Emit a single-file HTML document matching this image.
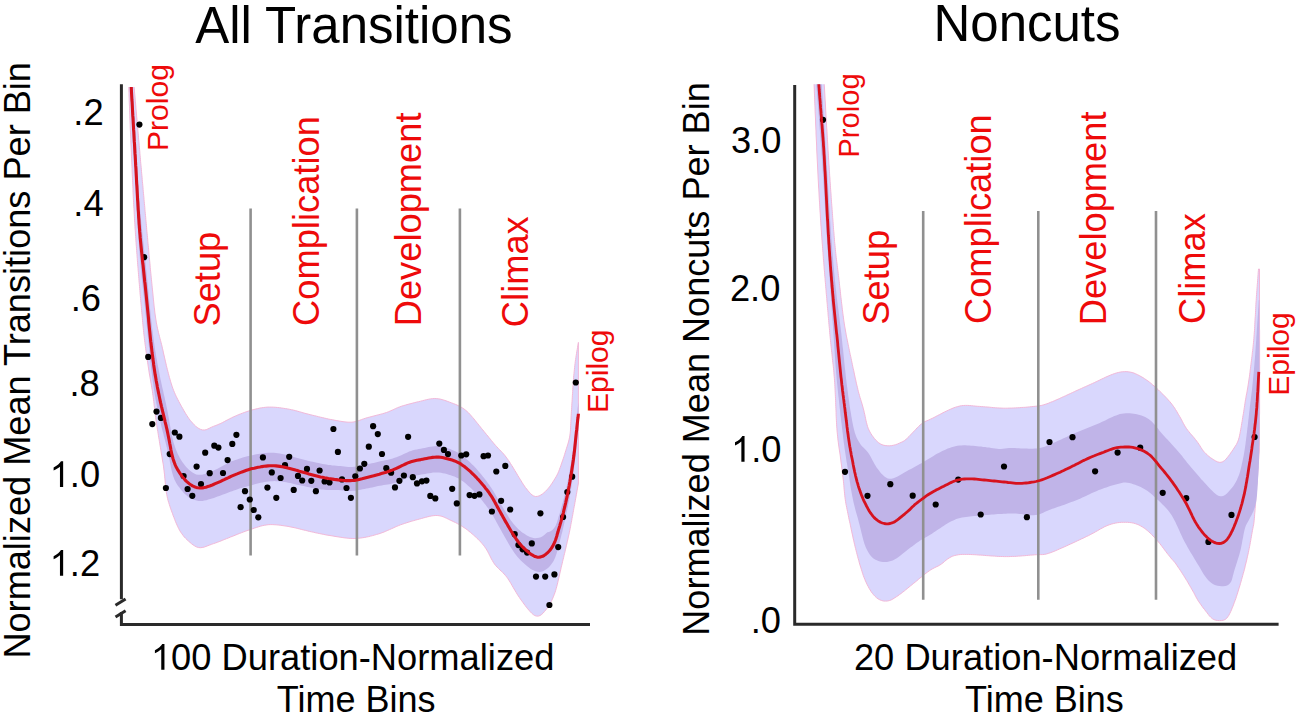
<!DOCTYPE html>
<html><head><meta charset="utf-8"><style>
html,body{margin:0;padding:0;background:#fff;}
body{width:1300px;height:718px;overflow:hidden;}
svg{display:block;}
text{font-family:"Liberation Sans", sans-serif;}
</style></head><body>
<svg width="1300" height="718" viewBox="0 0 1300 718" font-family="Liberation Sans, sans-serif">
<rect width="1300" height="718" fill="#fff"/>
<clipPath id="clipL"><rect x="123" y="87" width="477" height="553"/></clipPath>
<g clip-path="url(#clipL)">
<path d="M133.5,80.0 L133.7,82.0 L133.8,84.0 L134.0,86.0 L134.2,88.0 L134.4,90.0 L134.5,92.0 L134.7,93.9 L134.9,95.9 L135.1,97.9 L135.2,99.9 L135.4,101.9 L135.6,103.9 L135.8,105.9 L135.9,107.9 L136.1,109.9 L136.3,111.9 L136.5,113.9 L136.6,115.9 L136.8,117.9 L137.0,119.8 L137.1,121.8 L137.3,123.8 L137.5,125.8 L137.7,127.8 L137.8,129.8 L138.0,131.8 L138.2,133.8 L138.4,135.8 L138.5,137.8 L138.7,139.8 L138.9,141.8 L139.1,143.8 L139.2,145.7 L139.4,147.7 L139.6,149.7 L139.8,151.7 L139.9,153.7 L140.1,155.7 L140.3,157.7 L140.5,159.7 L140.6,161.7 L140.8,163.7 L141.0,165.7 L141.2,167.7 L141.4,169.7 L141.5,171.6 L141.7,173.6 L141.9,175.6 L142.1,177.6 L142.2,179.6 L142.4,181.6 L142.6,183.6 L142.8,185.6 L143.0,187.6 L143.1,189.6 L143.3,191.6 L143.5,193.6 L143.7,195.6 L143.9,197.5 L144.0,199.5 L144.2,201.5 L144.4,203.5 L144.6,205.5 L144.8,207.5 L144.9,209.5 L145.1,211.5 L145.3,213.5 L145.5,215.5 L145.7,217.5 L145.8,219.5 L146.0,221.4 L146.2,223.4 L146.4,225.4 L146.6,227.4 L146.7,229.4 L146.9,231.4 L147.1,233.4 L147.3,235.4 L147.5,237.4 L147.7,239.4 L147.8,241.4 L148.0,243.4 L148.2,245.3 L148.4,247.3 L148.6,249.3 L148.8,251.3 L148.9,253.3 L149.1,255.3 L149.3,257.3 L149.5,259.3 L149.7,261.3 L149.9,263.3 L150.1,265.3 L150.2,267.3 L150.4,269.2 L150.6,271.2 L150.8,273.2 L151.0,275.2 L151.2,277.2 L151.4,279.2 L151.6,281.2 L151.8,283.2 L152.0,285.2 L152.2,287.2 L152.4,289.1 L152.6,291.1 L152.8,293.1 L153.0,295.1 L153.2,297.1 L153.4,299.1 L153.6,301.1 L153.8,303.1 L154.0,305.1 L154.2,307.1 L154.5,309.0 L154.7,311.0 L154.9,313.0 L155.2,315.0 L155.5,317.0 L155.8,319.0 L156.1,320.9 L156.4,322.9 L156.8,324.9 L157.2,326.8 L157.6,328.8 L158.1,330.7 L158.5,332.7 L159.0,334.6 L159.5,336.5 L160.0,338.5 L160.5,340.4 L161.0,342.3 L161.5,344.3 L162.0,346.2 L162.4,348.2 L162.9,350.1 L163.3,352.1 L163.7,354.0 L164.2,356.0 L164.6,357.9 L165.1,359.9 L165.5,361.8 L166.0,363.8 L166.4,365.7 L166.9,367.7 L167.4,369.6 L167.9,371.6 L168.4,373.5 L168.9,375.4 L169.4,377.4 L170.0,379.3 L170.5,381.2 L171.1,383.1 L171.7,385.0 L172.3,386.9 L173.0,388.8 L173.7,390.7 L174.5,392.5 L175.3,394.4 L176.1,396.2 L177.0,398.0 L177.9,399.7 L178.8,401.5 L179.8,403.3 L180.7,405.0 L181.7,406.8 L182.7,408.5 L183.7,410.3 L184.7,412.0 L185.7,413.7 L186.8,415.4 L187.9,417.1 L189.0,418.7 L190.2,420.3 L191.5,421.8 L192.8,423.3 L194.2,424.8 L195.6,426.2 L197.2,427.4 L198.8,428.5 L200.6,429.4 L202.4,429.9 L204.3,430.0 L206.2,429.7 L208.0,428.9 L209.7,428.1 L211.5,427.2 L213.4,426.4 L215.2,425.7 L217.1,425.0 L218.9,424.2 L220.8,423.4 L222.6,422.5 L224.3,421.6 L226.1,420.6 L227.9,419.7 L229.6,418.8 L231.4,417.9 L233.2,417.0 L235.1,416.2 L236.9,415.4 L238.7,414.6 L240.6,413.9 L242.4,413.2 L244.3,412.5 L246.2,411.8 L248.1,411.2 L250.0,410.6 L251.9,410.0 L253.9,409.5 L255.8,409.0 L257.8,408.6 L259.7,408.1 L261.7,407.8 L263.6,407.5 L265.6,407.3 L267.6,407.1 L269.6,407.1 L271.6,407.1 L273.6,407.2 L275.6,407.3 L277.6,407.5 L279.6,407.7 L281.6,408.0 L283.5,408.3 L285.5,408.6 L287.5,408.9 L289.5,409.3 L291.4,409.7 L293.4,410.1 L295.3,410.6 L297.2,411.1 L299.2,411.7 L301.1,412.2 L303.0,412.8 L304.9,413.3 L306.9,413.8 L308.8,414.3 L310.8,414.8 L312.7,415.3 L314.6,415.7 L316.6,416.2 L318.5,416.7 L320.5,417.2 L322.4,417.6 L324.4,418.1 L326.3,418.5 L328.3,419.0 L330.2,419.4 L332.2,419.7 L334.1,420.1 L336.1,420.5 L338.1,420.8 L340.1,421.2 L342.0,421.5 L344.0,421.8 L346.0,422.0 L348.0,422.2 L350.0,422.2 L352.0,422.2 L353.9,421.9 L355.9,421.5 L357.8,421.0 L359.7,420.3 L361.5,419.6 L363.4,418.9 L365.3,418.3 L367.2,417.7 L369.2,417.2 L371.1,416.7 L373.0,416.2 L375.0,415.7 L376.9,415.2 L378.8,414.7 L380.8,414.2 L382.7,413.7 L384.6,413.1 L386.5,412.5 L388.4,411.8 L390.2,411.0 L392.1,410.2 L393.9,409.4 L395.7,408.5 L397.5,407.7 L399.4,407.0 L401.3,406.3 L403.2,405.7 L405.1,405.2 L407.0,404.6 L408.9,404.1 L410.9,403.6 L412.8,403.1 L414.8,402.6 L416.7,402.1 L418.6,401.7 L420.6,401.2 L422.5,400.7 L424.5,400.2 L426.4,399.7 L428.3,399.3 L430.3,398.9 L432.3,398.7 L434.3,398.5 L436.3,398.6 L438.2,398.8 L440.2,399.1 L442.1,399.6 L444.1,400.2 L446.0,400.8 L447.8,401.5 L449.7,402.2 L451.6,402.9 L453.4,403.6 L455.3,404.3 L457.1,405.1 L458.9,406.0 L460.7,406.9 L462.4,407.9 L464.1,409.1 L465.7,410.3 L467.2,411.6 L468.6,412.9 L470.0,414.4 L471.3,415.9 L472.6,417.4 L473.9,418.9 L475.2,420.5 L476.4,422.1 L477.7,423.6 L478.9,425.2 L480.2,426.7 L481.4,428.3 L482.7,429.8 L484.0,431.4 L485.2,432.9 L486.5,434.5 L487.8,436.0 L489.0,437.6 L490.3,439.1 L491.5,440.7 L492.8,442.2 L494.1,443.8 L495.4,445.3 L496.8,446.7 L498.1,448.2 L499.5,449.6 L500.9,451.1 L502.3,452.5 L503.6,454.0 L504.9,455.5 L506.1,457.1 L507.3,458.7 L508.5,460.4 L509.6,462.0 L510.6,463.7 L511.7,465.4 L512.8,467.1 L513.8,468.8 L514.8,470.5 L515.9,472.2 L516.9,473.9 L517.9,475.7 L519.0,477.4 L520.0,479.1 L521.1,480.8 L522.1,482.5 L523.2,484.2 L524.3,485.8 L525.4,487.5 L526.7,489.0 L527.9,490.6 L529.2,492.1 L530.6,493.6 L532.0,494.9 L533.6,495.9 L535.4,496.5 L537.3,496.4 L539.1,495.9 L540.8,495.0 L542.5,493.9 L544.0,492.7 L545.5,491.3 L546.9,489.9 L548.2,488.4 L549.5,486.9 L550.7,485.2 L551.8,483.6 L552.9,481.9 L554.0,480.2 L555.0,478.5 L556.1,476.8 L557.0,475.1 L557.9,473.3 L558.7,471.4 L559.4,469.6 L560.1,467.7 L560.8,465.8 L561.4,463.9 L562.1,462.0 L562.7,460.2 L563.4,458.3 L564.0,456.4 L564.6,454.5 L565.2,452.5 L565.8,450.6 L566.4,448.7 L567.0,446.8 L567.6,444.9 L568.2,443.0 L568.7,441.1 L569.2,439.1 L569.6,437.2 L569.9,435.2 L570.2,433.2 L570.4,431.2 L570.5,429.2 L570.6,427.2 L570.7,425.3 L570.8,423.3 L570.9,421.3 L571.0,419.3 L571.1,417.3 L571.2,415.3 L571.3,413.3 L571.4,411.3 L571.6,409.3 L571.7,407.3 L571.8,405.3 L571.9,403.3 L572.1,401.3 L572.2,399.3 L572.3,397.3 L572.4,395.3 L572.6,393.3 L572.7,391.3 L572.8,389.3 L572.9,387.3 L573.1,385.3 L573.2,383.3 L573.3,381.3 L573.5,379.3 L573.6,377.3 L573.8,375.3 L574.0,373.4 L574.2,371.4 L574.4,369.4 L574.6,367.4 L574.8,365.4 L575.1,363.4 L575.3,361.4 L575.6,359.5 L575.9,357.5 L576.2,355.5 L576.5,353.5 L576.8,351.5 L577.2,349.6 L577.5,347.6 L577.8,345.7 L578.2,343.8 L578.4,342.4 L578.4,483.0 L578.1,485.0 L577.7,486.9 L577.4,488.9 L577.0,490.9 L576.7,492.9 L576.3,494.8 L576.0,496.8 L575.6,498.8 L575.3,500.7 L574.9,502.7 L574.6,504.7 L574.2,506.6 L573.8,508.6 L573.5,510.6 L573.1,512.5 L572.8,514.5 L572.4,516.5 L572.0,518.4 L571.7,520.4 L571.3,522.4 L570.9,524.3 L570.6,526.3 L570.2,528.3 L569.8,530.2 L569.4,532.2 L569.0,534.1 L568.5,536.1 L568.1,538.0 L567.7,540.0 L567.2,541.9 L566.8,543.9 L566.3,545.8 L565.9,547.8 L565.4,549.7 L565.0,551.7 L564.5,553.6 L564.0,555.6 L563.6,557.5 L563.1,559.5 L562.6,561.4 L562.2,563.4 L561.7,565.3 L561.2,567.2 L560.8,569.2 L560.4,571.1 L559.9,573.1 L559.5,575.0 L559.0,577.0 L558.6,578.9 L558.1,580.9 L557.7,582.8 L557.2,584.8 L556.7,586.7 L556.2,588.6 L555.6,590.6 L555.0,592.5 L554.3,594.4 L553.6,596.2 L552.8,598.1 L552.0,599.9 L551.1,601.7 L550.2,603.4 L549.2,605.2 L548.1,606.8 L546.9,608.5 L545.7,610.1 L544.4,611.6 L543.1,613.1 L541.7,614.4 L540.1,615.5 L538.4,616.1 L536.6,616.1 L534.8,615.6 L533.2,614.5 L531.7,613.2 L530.3,611.8 L529.0,610.3 L527.7,608.8 L526.4,607.2 L525.2,605.6 L524.0,604.0 L522.9,602.4 L521.7,600.8 L520.5,599.2 L519.4,597.5 L518.3,595.9 L517.2,594.2 L516.2,592.5 L515.1,590.7 L514.1,589.0 L513.1,587.3 L512.1,585.6 L511.1,583.8 L510.1,582.1 L509.0,580.4 L507.9,578.7 L506.8,577.1 L505.5,575.6 L504.2,574.1 L502.8,572.6 L501.4,571.2 L499.9,569.9 L498.5,568.5 L497.1,567.1 L495.7,565.6 L494.5,564.0 L493.4,562.4 L492.4,560.6 L491.4,558.9 L490.5,557.1 L489.6,555.3 L488.7,553.5 L487.8,551.8 L486.8,550.0 L485.7,548.3 L484.6,546.7 L483.4,545.1 L482.1,543.6 L480.8,542.1 L479.4,540.6 L478.0,539.2 L476.6,537.8 L475.1,536.5 L473.6,535.1 L472.1,533.8 L470.6,532.5 L469.0,531.3 L467.5,530.0 L465.9,528.8 L464.2,527.7 L462.6,526.6 L460.9,525.5 L459.2,524.5 L457.4,523.6 L455.6,522.6 L453.8,521.8 L452.0,520.9 L450.2,520.1 L448.4,519.2 L446.6,518.3 L444.8,517.5 L443.0,516.7 L441.1,516.1 L439.1,515.7 L437.2,515.5 L435.2,515.5 L433.2,515.7 L431.2,516.0 L429.3,516.4 L427.3,516.9 L425.4,517.4 L423.5,517.9 L421.5,518.5 L419.6,519.0 L417.7,519.5 L415.8,520.0 L413.8,520.6 L411.9,521.1 L410.0,521.7 L408.1,522.3 L406.2,522.9 L404.3,523.5 L402.4,524.2 L400.5,524.8 L398.6,525.6 L396.8,526.3 L395.0,527.1 L393.1,528.0 L391.3,528.8 L389.5,529.6 L387.7,530.4 L385.8,531.2 L384.0,532.0 L382.1,532.7 L380.2,533.4 L378.3,534.0 L376.4,534.5 L374.5,535.1 L372.6,535.6 L370.6,536.1 L368.7,536.6 L366.7,537.0 L364.8,537.4 L362.8,537.7 L360.8,538.0 L358.8,538.2 L356.9,538.4 L354.9,538.5 L352.9,538.5 L350.9,538.4 L348.9,538.3 L346.9,538.1 L344.9,537.9 L342.9,537.6 L340.9,537.3 L338.9,537.0 L337.0,536.7 L335.0,536.4 L333.0,536.0 L331.1,535.7 L329.1,535.4 L327.1,535.1 L325.1,534.7 L323.2,534.3 L321.2,533.9 L319.3,533.5 L317.3,533.1 L315.3,532.7 L313.4,532.2 L311.4,531.8 L309.5,531.4 L307.5,530.9 L305.6,530.4 L303.7,530.0 L301.7,529.5 L299.8,529.0 L297.8,528.5 L295.9,528.0 L294.0,527.6 L292.0,527.2 L290.0,526.8 L288.1,526.4 L286.1,526.1 L284.1,525.8 L282.1,525.5 L280.2,525.2 L278.2,525.0 L276.2,524.8 L274.2,524.7 L272.2,524.6 L270.2,524.6 L268.2,524.7 L266.2,525.0 L264.3,525.3 L262.3,525.7 L260.4,526.2 L258.5,526.8 L256.6,527.4 L254.7,528.0 L252.8,528.7 L250.9,529.3 L249.0,530.0 L247.1,530.6 L245.2,531.3 L243.3,532.0 L241.5,532.7 L239.6,533.4 L237.7,534.2 L235.9,534.9 L234.0,535.7 L232.2,536.4 L230.3,537.1 L228.5,537.9 L226.6,538.6 L224.7,539.4 L222.9,540.1 L221.0,540.9 L219.2,541.6 L217.3,542.3 L215.4,543.0 L213.5,543.6 L211.6,544.3 L209.7,545.0 L207.9,545.7 L206.0,546.4 L204.2,547.1 L202.2,547.5 L200.3,547.7 L198.4,547.5 L196.5,546.9 L194.8,546.0 L193.1,544.9 L191.5,543.7 L190.0,542.4 L188.5,541.1 L187.0,539.7 L185.6,538.3 L184.2,536.9 L183.0,535.3 L181.8,533.7 L180.7,532.1 L179.6,530.4 L178.7,528.6 L177.8,526.8 L177.0,525.0 L176.2,523.2 L175.4,521.3 L174.7,519.5 L174.0,517.6 L173.2,515.7 L172.6,513.8 L171.9,512.0 L171.2,510.1 L170.5,508.2 L169.9,506.3 L169.3,504.4 L168.7,502.5 L168.1,500.6 L167.6,498.6 L167.2,496.7 L166.8,494.7 L166.4,492.8 L166.1,490.8 L165.9,488.8 L165.7,486.8 L165.5,484.8 L165.3,482.8 L165.1,480.8 L164.9,478.8 L164.7,476.9 L164.6,474.9 L164.3,472.9 L164.1,470.9 L163.8,468.9 L163.6,466.9 L163.3,464.9 L163.0,463.0 L162.6,461.0 L162.3,459.0 L162.0,457.0 L161.7,455.1 L161.3,453.1 L161.0,451.1 L160.7,449.2 L160.4,447.2 L160.0,445.2 L159.7,443.2 L159.4,441.3 L159.1,439.3 L158.7,437.3 L158.4,435.3 L158.1,433.4 L157.8,431.4 L157.4,429.4 L157.1,427.4 L156.8,425.5 L156.5,423.5 L156.2,421.5 L155.9,419.5 L155.7,417.6 L155.4,415.6 L155.2,413.6 L154.9,411.6 L154.7,409.6 L154.5,407.6 L154.2,405.6 L154.0,403.7 L153.8,401.7 L153.5,399.7 L153.3,397.7 L153.0,395.7 L152.7,393.7 L152.5,391.8 L152.2,389.8 L151.8,387.8 L151.5,385.8 L151.2,383.9 L150.8,381.9 L150.5,379.9 L150.1,377.9 L149.8,376.0 L149.4,374.0 L149.1,372.0 L148.8,370.1 L148.5,368.1 L148.2,366.1 L147.9,364.1 L147.6,362.2 L147.3,360.2 L147.0,358.2 L146.7,356.2 L146.4,354.2 L146.2,352.3 L145.9,350.3 L145.6,348.3 L145.4,346.3 L145.1,344.3 L144.9,342.3 L144.6,340.4 L144.4,338.4 L144.2,336.4 L143.9,334.4 L143.7,332.4 L143.5,330.4 L143.3,328.4 L143.1,326.4 L142.9,324.4 L142.7,322.5 L142.5,320.5 L142.4,318.5 L142.2,316.5 L142.0,314.5 L141.8,312.5 L141.6,310.5 L141.4,308.5 L141.3,306.5 L141.1,304.5 L140.9,302.5 L140.7,300.5 L140.6,298.6 L140.4,296.6 L140.2,294.6 L140.0,292.6 L139.9,290.6 L139.7,288.6 L139.5,286.6 L139.4,284.6 L139.2,282.6 L139.0,280.6 L138.9,278.6 L138.7,276.6 L138.5,274.6 L138.4,272.6 L138.2,270.7 L138.1,268.7 L137.9,266.7 L137.7,264.7 L137.6,262.7 L137.4,260.7 L137.3,258.7 L137.1,256.7 L137.0,254.7 L136.8,252.7 L136.7,250.7 L136.5,248.7 L136.4,246.7 L136.2,244.7 L136.1,242.7 L135.9,240.7 L135.8,238.7 L135.7,236.7 L135.5,234.8 L135.4,232.8 L135.3,230.8 L135.1,228.8 L135.0,226.8 L134.9,224.8 L134.8,222.8 L134.6,220.8 L134.5,218.8 L134.4,216.8 L134.3,214.8 L134.2,212.8 L134.1,210.8 L134.0,208.8 L133.8,206.8 L133.7,204.8 L133.6,202.8 L133.5,200.8 L133.4,198.8 L133.3,196.8 L133.2,194.8 L133.1,192.8 L133.0,190.8 L133.0,188.8 L132.9,186.8 L132.8,184.8 L132.7,182.8 L132.6,180.8 L132.5,178.8 L132.4,176.8 L132.3,174.8 L132.2,172.8 L132.1,170.8 L132.1,168.8 L132.0,166.8 L131.9,164.8 L131.8,162.9 L131.7,160.9 L131.6,158.9 L131.5,156.9 L131.4,154.9 L131.4,152.9 L131.3,150.9 L131.2,148.9 L131.1,146.9 L131.0,144.9 L130.9,142.9 L130.8,140.9 L130.8,138.9 L130.7,136.9 L130.6,134.9 L130.5,132.9 L130.4,130.9 L130.3,128.9 L130.2,126.9 L130.2,124.9 L130.1,122.9 L130.0,120.9 L129.9,118.9 L129.8,116.9 L129.8,114.9 L129.7,112.9 L129.6,110.9 L129.5,108.9 L129.5,106.9 L129.4,104.9 L129.3,102.9 L129.2,100.9 L129.2,98.9 L129.1,96.9 L129.0,94.9 L129.0,92.9 L128.9,90.9 L128.8,88.9 L128.8,86.9 L128.7,84.9 L128.6,82.9 L128.5,81.0 L128.5,80.0 Z" fill="#d9d7fd" stroke="#f2b8d8" stroke-width="1"/>
<path d="M130.8,43.5 L130.8,45.5 L130.8,47.5 L130.8,49.5 L130.9,51.5 L131.0,53.5 L131.0,55.5 L131.1,57.5 L131.2,59.5 L131.3,61.5 L131.4,63.5 L131.5,65.5 L131.6,67.5 L131.7,69.5 L131.8,71.5 L131.9,73.5 L132.1,75.5 L132.2,77.5 L132.3,79.5 L132.4,81.5 L132.5,83.5 L132.6,85.5 L132.7,87.5 L132.8,89.5 L133.0,91.5 L133.1,93.5 L133.2,95.5 L133.3,97.5 L133.4,99.5 L133.5,101.5 L133.6,103.5 L133.8,105.5 L133.9,107.5 L134.0,109.5 L134.1,111.5 L134.2,113.5 L134.3,115.5 L134.5,117.5 L134.6,119.5 L134.7,121.5 L134.8,123.5 L134.9,125.5 L135.0,127.5 L135.2,129.5 L135.3,131.5 L135.4,133.5 L135.5,135.5 L135.6,137.5 L135.7,139.5 L135.9,141.5 L136.0,143.5 L136.1,145.5 L136.2,147.5 L136.3,149.5 L136.4,151.5 L136.5,153.5 L136.6,155.5 L136.7,157.5 L136.9,159.5 L137.0,161.5 L137.1,163.5 L137.2,165.5 L137.3,167.5 L137.4,169.5 L137.5,171.5 L137.6,173.5 L137.8,175.5 L137.9,177.5 L138.0,179.5 L138.1,181.5 L138.2,183.5 L138.4,185.5 L138.5,187.5 L138.6,189.5 L138.7,191.5 L138.9,193.5 L139.0,195.5 L139.1,197.5 L139.3,199.5 L139.4,201.5 L139.6,203.5 L139.7,205.5 L139.9,207.5 L140.1,209.5 L140.2,211.5 L140.4,213.5 L140.6,215.5 L140.8,217.4 L141.0,219.4 L141.2,221.4 L141.4,223.4 L141.6,225.4 L141.8,227.4 L142.0,229.4 L142.2,231.4 L142.4,233.4 L142.6,235.4 L142.8,237.4 L143.1,239.4 L143.3,241.4 L143.5,243.4 L143.7,245.4 L143.9,247.4 L144.1,249.4 L144.3,251.4 L144.5,253.4 L144.7,255.3 L145.0,257.3 L145.2,259.3 L145.4,261.3 L145.6,263.3 L145.8,265.3 L146.0,267.3 L146.2,269.3 L146.4,271.3 L146.6,273.3 L146.8,275.3 L147.0,277.3 L147.2,279.3 L147.4,281.3 L147.6,283.3 L147.8,285.3 L148.0,287.3 L148.2,289.3 L148.4,291.3 L148.6,293.3 L148.7,295.3 L148.9,297.2 L149.1,299.2 L149.3,301.2 L149.5,303.2 L149.7,305.2 L149.9,307.2 L150.1,309.2 L150.3,311.3 L150.5,313.3 L150.7,315.4 L151.0,317.4 L151.2,319.5 L151.4,321.5 L151.7,323.6 L151.9,325.6 L152.1,327.7 L152.4,329.7 L152.7,331.8 L152.9,333.8 L153.2,335.9 L153.5,337.9 L153.7,340.0 L154.0,342.0 L154.3,344.1 L154.6,346.2 L154.9,348.2 L155.2,350.3 L155.6,352.3 L155.9,354.4 L156.2,356.5 L156.6,358.5 L157.0,360.6 L157.3,362.7 L157.7,364.7 L158.1,366.8 L158.5,368.8 L158.9,370.9 L159.3,373.0 L159.7,375.0 L160.1,377.1 L160.5,379.2 L161.0,381.3 L161.4,383.3 L161.9,385.4 L162.3,387.5 L162.8,389.5 L163.3,391.6 L163.7,393.7 L164.2,395.7 L164.7,397.8 L165.1,399.9 L165.6,402.1 L166.1,404.2 L166.5,406.4 L167.0,408.5 L167.4,410.7 L167.8,412.8 L168.2,415.0 L168.6,417.1 L169.0,419.3 L169.4,421.4 L169.7,423.6 L170.1,425.7 L170.5,427.8 L170.8,430.0 L171.2,432.1 L171.6,434.3 L172.1,436.4 L172.6,438.6 L173.1,440.8 L173.7,442.9 L174.4,445.1 L175.1,447.3 L175.9,449.5 L176.9,451.7 L177.8,453.9 L178.9,456.1 L180.0,458.3 L181.1,460.1 L182.3,461.9 L183.5,463.6 L184.8,465.3 L186.2,466.9 L187.7,468.5 L189.2,469.9 L190.8,471.3 L192.5,472.5 L194.3,473.6 L196.2,474.4 L198.1,474.7 L200.0,474.8 L202.0,474.7 L203.9,474.3 L205.9,473.8 L207.8,473.2 L209.7,472.5 L211.6,471.6 L213.4,470.7 L215.2,469.8 L217.1,468.9 L218.9,467.9 L220.7,466.9 L222.5,466.0 L224.3,465.0 L226.1,464.0 L228.0,463.0 L229.8,462.0 L231.6,461.3 L233.4,460.7 L235.3,460.0 L237.1,459.4 L239.0,458.8 L240.8,458.2 L242.7,457.6 L244.6,457.1 L246.5,456.6 L248.4,456.1 L250.3,455.7 L252.2,455.2 L254.2,454.7 L256.1,454.3 L258.1,454.0 L260.0,453.7 L262.0,453.4 L264.0,453.1 L266.0,452.9 L268.0,452.8 L270.0,452.7 L272.0,452.7 L273.9,452.8 L275.9,453.0 L277.9,453.2 L279.9,453.5 L281.9,453.9 L283.8,454.3 L285.8,454.7 L287.7,455.2 L289.7,455.8 L291.6,456.3 L293.5,456.9 L295.5,457.5 L297.4,458.1 L299.3,458.6 L301.2,459.1 L303.2,459.6 L305.1,460.0 L307.0,460.5 L308.9,461.0 L310.9,461.4 L312.8,461.8 L314.7,462.3 L316.7,462.7 L318.6,463.1 L320.5,463.5 L322.5,463.9 L324.5,464.2 L326.4,464.6 L328.4,464.9 L330.4,465.1 L332.3,465.4 L334.3,465.6 L336.3,465.8 L338.3,465.9 L340.3,466.1 L342.3,466.3 L344.3,466.6 L346.2,466.7 L348.2,466.9 L350.2,466.9 L352.2,466.9 L354.2,466.7 L356.2,466.5 L358.1,466.1 L360.1,465.7 L362.0,465.3 L364.0,464.9 L365.9,464.5 L367.9,464.1 L369.8,463.7 L371.7,463.3 L373.7,462.9 L375.6,462.4 L377.5,462.0 L379.4,461.5 L381.4,461.1 L383.3,460.7 L385.2,460.3 L387.1,459.9 L389.0,459.4 L390.9,459.0 L392.8,458.4 L394.6,457.8 L396.4,457.2 L398.2,456.5 L400.1,455.8 L401.9,454.9 L403.7,454.0 L405.5,453.2 L407.3,452.4 L409.1,451.6 L411.0,450.9 L412.9,450.3 L414.9,449.8 L416.8,449.4 L418.8,449.1 L420.7,448.7 L422.7,448.3 L424.7,447.9 L426.6,447.5 L428.6,447.1 L430.5,446.7 L432.5,446.4 L434.5,446.2 L436.5,446.1 L438.5,446.1 L440.5,446.3 L442.4,446.7 L444.4,447.2 L446.3,447.8 L448.3,448.4 L450.2,449.1 L452.1,449.9 L454.0,450.7 L455.8,451.5 L457.7,452.4 L459.4,453.5 L461.1,454.6 L462.8,455.9 L464.4,457.2 L465.9,458.5 L467.5,459.9 L469.0,461.3 L470.5,462.7 L471.9,464.2 L473.4,465.6 L474.8,467.1 L476.2,468.6 L477.5,470.1 L478.9,471.7 L480.2,473.2 L481.5,474.8 L482.8,476.4 L484.1,478.0 L485.3,479.6 L486.6,481.3 L487.8,482.9 L489.0,484.6 L490.1,486.3 L491.2,487.8 L492.3,489.4 L493.3,491.0 L494.3,492.7 L495.2,494.3 L496.2,496.0 L497.1,497.7 L498.1,499.3 L499.1,501.0 L500.0,502.6 L501.0,504.3 L502.0,505.9 L503.0,507.6 L503.9,509.2 L504.9,510.9 L505.9,512.5 L506.9,514.1 L507.9,515.8 L508.9,517.4 L509.9,519.0 L510.9,520.4 L512.0,521.8 L513.0,523.2 L514.1,524.5 L515.2,525.8 L516.3,527.1 L517.5,528.3 L518.7,529.5 L520.0,530.6 L521.3,531.7 L522.6,532.7 L524.0,533.6 L525.5,534.6 L526.9,535.4 L528.5,536.2 L530.0,536.9 L531.7,537.5 L533.4,538.0 L535.1,538.2 L537.0,538.1 L538.9,537.8 L540.8,537.2 L542.6,536.2 L544.3,534.9 L545.9,533.4 L547.4,532.2 L548.8,531.9 L550.1,531.4 L551.3,530.8 L552.4,530.0 L553.3,529.0 L554.2,528.0 L555.0,526.7 L555.7,525.4 L556.3,524.0 L556.9,522.6 L557.4,520.8 L558.0,518.9 L558.5,517.1 L559.1,515.2 L559.7,513.4 L560.2,511.5 L560.8,509.7 L561.3,507.8 L561.8,506.0 L562.3,504.1 L562.9,502.2 L563.4,500.4 L563.8,498.5 L564.3,496.6 L564.8,494.7 L565.2,492.8 L565.7,490.8 L566.1,488.9 L566.5,486.9 L567.0,485.0 L567.4,483.0 L567.8,481.1 L568.2,479.1 L568.5,477.1 L568.9,475.2 L569.3,473.2 L569.6,471.2 L570.0,469.3 L570.3,467.3 L570.7,465.3 L571.0,463.3 L571.3,461.4 L571.6,459.4 L571.9,457.4 L572.2,455.4 L572.5,453.5 L572.8,451.5 L573.1,449.5 L573.4,447.5 L573.6,445.5 L573.9,443.6 L574.1,441.6 L574.4,439.6 L574.6,437.6 L574.8,435.6 L575.0,433.6 L575.2,431.6 L575.4,429.6 L575.6,427.7 L575.8,425.7 L576.0,423.7 L576.2,421.7 L576.4,419.7 L576.7,417.7 L576.9,415.7 L577.1,413.7 L577.3,411.7 L577.5,409.8 L577.7,407.8 L578.0,405.8 L578.2,404.0 L578.4,402.2 L578.4,401.8 L578.4,427.8 L578.2,429.5 L578.0,431.4 L577.8,433.3 L577.6,435.2 L577.4,437.2 L577.1,439.2 L576.9,441.2 L576.7,443.2 L576.5,445.2 L576.3,447.2 L576.1,449.2 L575.9,451.1 L575.7,453.1 L575.5,455.1 L575.3,457.1 L575.1,459.1 L574.9,461.1 L574.6,463.1 L574.4,465.1 L574.2,467.1 L574.0,469.0 L573.7,471.0 L573.5,473.0 L573.2,475.0 L572.9,477.0 L572.6,479.0 L572.3,480.9 L572.0,482.9 L571.7,484.9 L571.4,486.9 L571.1,488.8 L570.7,490.8 L570.4,492.8 L570.1,494.8 L569.7,496.7 L569.4,498.7 L569.0,500.7 L568.6,502.6 L568.2,504.6 L567.9,506.6 L567.5,508.5 L567.1,510.5 L566.6,512.4 L566.2,514.4 L565.8,516.3 L565.4,518.3 L564.9,520.3 L564.4,522.4 L564.0,524.5 L563.5,526.6 L563.0,528.8 L562.5,530.9 L562.0,533.0 L561.4,535.1 L560.9,537.3 L560.3,539.4 L559.8,541.5 L559.2,543.7 L558.7,545.8 L558.1,547.9 L557.6,550.0 L557.0,552.2 L556.4,554.0 L555.8,555.8 L555.2,557.6 L554.4,559.3 L553.6,561.0 L552.6,562.6 L551.5,564.1 L550.4,565.6 L549.1,566.9 L547.7,568.2 L546.3,569.3 L544.7,570.3 L543.0,571.2 L541.2,571.7 L539.4,571.9 L537.5,571.7 L535.6,571.3 L533.8,570.6 L532.1,569.7 L530.4,568.7 L528.9,567.5 L527.3,566.3 L525.8,565.0 L524.4,563.8 L523.0,562.5 L521.6,561.3 L520.3,559.9 L519.0,558.6 L517.8,557.2 L516.6,555.7 L515.4,554.2 L514.3,552.7 L513.3,551.2 L512.2,549.6 L511.2,548.0 L510.2,546.4 L509.2,544.7 L508.2,543.0 L507.2,541.3 L506.2,539.5 L505.2,537.8 L504.2,536.1 L503.2,534.3 L502.2,532.6 L501.3,530.8 L500.3,529.1 L499.3,527.3 L498.3,525.6 L497.4,523.8 L496.4,522.1 L495.5,520.3 L494.5,518.5 L493.6,516.8 L492.6,515.1 L491.5,513.4 L490.4,511.7 L489.3,510.0 L488.1,508.3 L486.9,506.7 L485.7,505.1 L484.4,503.4 L483.1,501.8 L481.9,500.2 L480.6,498.6 L479.2,497.1 L477.9,495.5 L476.5,494.0 L475.1,492.5 L473.7,491.0 L472.3,489.5 L470.8,488.1 L469.3,486.7 L467.8,485.4 L466.3,484.0 L464.8,482.8 L463.2,481.5 L461.5,480.4 L459.8,479.3 L458.1,478.3 L456.3,477.4 L454.4,476.6 L452.6,475.9 L450.7,475.3 L448.8,474.7 L446.8,474.1 L444.9,473.6 L442.9,473.2 L441.0,472.8 L439.0,472.6 L437.0,472.5 L435.0,472.5 L433.0,472.6 L431.0,472.9 L429.1,473.2 L427.1,473.5 L425.2,473.9 L423.2,474.2 L421.2,474.6 L419.3,474.9 L417.3,475.2 L415.3,475.6 L413.4,476.0 L411.5,476.5 L409.6,477.1 L407.7,477.8 L405.9,478.5 L404.1,479.3 L402.3,480.2 L400.5,481.0 L398.7,481.7 L396.9,482.3 L395.1,482.8 L393.2,483.3 L391.4,483.7 L389.5,484.2 L387.6,484.5 L385.7,484.8 L383.8,485.1 L381.8,485.4 L379.9,485.7 L378.0,486.1 L376.1,486.6 L374.1,487.0 L372.2,487.4 L370.3,487.8 L368.3,488.2 L366.4,488.5 L364.5,488.9 L362.5,489.3 L360.6,489.7 L358.6,490.0 L356.7,490.4 L354.7,490.7 L352.7,490.8 L350.7,490.9 L348.7,490.9 L346.7,490.8 L344.8,490.6 L342.8,490.4 L340.8,490.2 L338.8,490.1 L336.8,490.1 L334.8,490.1 L332.8,490.1 L330.8,490.1 L328.9,490.0 L326.9,489.9 L324.9,489.7 L323.0,489.6 L321.0,489.4 L319.1,489.1 L317.1,488.8 L315.2,488.4 L313.3,488.1 L311.3,487.7 L309.4,487.3 L307.5,486.9 L305.6,486.5 L303.6,486.1 L301.7,485.7 L299.8,485.3 L297.9,484.9 L295.9,484.4 L294.0,484.0 L292.1,483.5 L290.2,483.1 L288.2,482.7 L286.3,482.3 L284.3,482.0 L282.4,481.7 L280.4,481.5 L278.4,481.3 L276.4,481.2 L274.4,481.1 L272.5,481.2 L270.5,481.3 L268.5,481.5 L266.5,481.7 L264.5,482.1 L262.5,482.4 L260.5,482.8 L258.6,483.3 L256.6,483.8 L254.6,484.3 L252.7,484.9 L250.8,485.5 L248.9,486.0 L246.9,486.4 L245.1,486.9 L243.2,487.5 L241.3,488.0 L239.4,488.6 L237.6,489.3 L235.7,489.9 L233.9,490.5 L232.1,491.2 L230.2,491.8 L228.4,492.5 L226.6,493.2 L224.8,493.9 L223.0,494.6 L221.2,495.2 L219.3,495.9 L217.5,496.6 L215.7,497.2 L213.9,497.9 L212.0,498.5 L210.2,499.0 L208.3,499.6 L206.4,500.2 L204.4,500.6 L202.5,501.0 L200.5,501.1 L198.6,501.0 L196.6,500.6 L194.8,499.9 L193.0,499.4 L191.3,498.6 L189.6,497.7 L188.1,496.7 L186.6,495.5 L185.2,494.3 L183.8,493.0 L182.6,491.6 L181.4,490.2 L180.2,488.7 L179.2,487.3 L178.1,485.9 L177.1,484.4 L176.2,482.9 L175.3,481.3 L174.5,479.7 L173.9,478.0 L173.2,476.3 L172.7,474.5 L172.2,472.7 L171.7,470.9 L171.3,469.0 L170.9,467.2 L170.6,465.3 L170.2,463.4 L169.8,461.6 L169.5,459.7 L169.1,457.8 L168.7,456.0 L168.3,454.1 L167.9,452.2 L167.5,450.4 L167.1,448.6 L166.6,446.7 L166.2,444.9 L165.7,443.1 L165.2,441.3 L164.8,439.5 L164.3,437.7 L163.8,435.9 L163.4,434.1 L162.9,432.3 L162.4,430.5 L162.0,428.7 L161.5,426.9 L161.1,425.1 L160.7,423.3 L160.2,421.5 L159.8,419.7 L159.4,417.9 L159.0,416.0 L158.6,414.2 L158.2,412.4 L157.8,410.6 L157.4,408.7 L157.0,406.9 L156.7,405.0 L156.3,403.2 L156.0,401.3 L155.6,399.5 L155.3,397.6 L155.0,395.7 L154.7,393.9 L154.4,392.0 L154.1,390.1 L153.8,388.2 L153.5,386.3 L153.3,384.4 L153.0,382.6 L152.7,380.7 L152.5,378.8 L152.2,376.9 L152.0,375.0 L151.7,373.1 L151.5,371.2 L151.2,369.2 L151.0,367.3 L150.8,365.4 L150.6,363.5 L150.3,361.6 L150.1,359.7 L149.9,357.7 L149.7,355.7 L149.5,353.8 L149.4,351.8 L149.2,349.8 L149.0,347.8 L148.8,345.8 L148.6,343.8 L148.4,341.9 L148.2,339.9 L148.0,337.9 L147.8,335.9 L147.6,333.9 L147.4,332.0 L147.2,330.0 L147.0,328.0 L146.8,326.0 L146.6,324.0 L146.4,322.0 L146.2,320.1 L146.0,318.1 L145.8,316.1 L145.6,314.1 L145.4,312.1 L145.2,310.2 L145.0,308.2 L144.8,306.2 L144.6,304.2 L144.4,302.2 L144.2,300.2 L144.0,298.3 L143.8,296.3 L143.5,294.3 L143.3,292.3 L143.1,290.3 L142.9,288.4 L142.7,286.4 L142.5,284.4 L142.2,282.4 L142.0,280.5 L141.8,278.5 L141.6,276.5 L141.4,274.5 L141.2,272.5 L141.0,270.5 L140.8,268.6 L140.6,266.6 L140.5,264.6 L140.3,262.6 L140.1,260.6 L139.9,258.6 L139.8,256.6 L139.6,254.7 L139.5,252.7 L139.3,250.7 L139.2,248.7 L139.0,246.7 L138.9,244.7 L138.8,242.7 L138.6,240.7 L138.5,238.7 L138.4,236.8 L138.3,234.8 L138.1,232.8 L138.0,230.8 L137.9,228.8 L137.8,226.8 L137.7,224.8 L137.6,222.8 L137.4,220.8 L137.3,218.8 L137.2,216.8 L137.1,214.8 L137.0,212.8 L136.9,210.9 L136.8,208.9 L136.7,206.9 L136.5,204.9 L136.4,202.9 L136.3,200.9 L136.2,198.9 L136.1,196.9 L136.0,194.9 L135.9,192.9 L135.8,190.9 L135.7,188.9 L135.5,186.9 L135.4,185.0 L135.3,183.0 L135.2,181.0 L135.1,179.0 L135.0,177.0 L134.8,175.0 L134.7,173.0 L134.6,171.0 L134.5,169.0 L134.4,167.0 L134.3,165.0 L134.1,163.0 L134.0,161.1 L133.9,159.1 L133.8,157.1 L133.7,155.1 L133.6,153.1 L133.4,151.1 L133.3,149.1 L133.2,147.1 L133.1,145.1 L133.0,143.1 L132.9,141.1 L132.8,139.1 L132.6,137.1 L132.5,135.2 L132.4,133.2 L132.3,131.2 L132.2,129.2 L132.1,127.2 L132.0,125.2 L131.9,123.2 L131.8,121.2 L131.6,119.2 L131.5,117.2 L131.4,115.2 L131.3,113.2 L131.2,111.2 L131.1,109.2 L131.0,107.3 L131.0,105.3 L130.9,103.3 L130.9,101.3 L130.8,99.3 L130.8,97.3 L130.8,95.3 L130.8,94.8 Z" fill="#c0b4e8" stroke="none"/>
</g>
<line x1="250.6" y1="208.6" x2="250.6" y2="555.5" stroke="#909090" stroke-width="2.6"/>
<line x1="356.9" y1="208.6" x2="356.9" y2="555.5" stroke="#909090" stroke-width="2.6"/>
<line x1="459.9" y1="208.6" x2="459.9" y2="555.5" stroke="#909090" stroke-width="2.6"/>
<circle cx="139.4" cy="124.6" r="3.1" fill="#000"/>
<circle cx="144.1" cy="257.2" r="3.1" fill="#000"/>
<circle cx="148.2" cy="356.9" r="3.1" fill="#000"/>
<circle cx="152.3" cy="424.1" r="3.1" fill="#000"/>
<circle cx="156.5" cy="411.6" r="3.1" fill="#000"/>
<circle cx="160.9" cy="417.9" r="3.1" fill="#000"/>
<circle cx="165.9" cy="488" r="3.1" fill="#000"/>
<circle cx="169.7" cy="454.1" r="3.1" fill="#000"/>
<circle cx="174.8" cy="432.5" r="3.1" fill="#000"/>
<circle cx="179.4" cy="436.7" r="3.1" fill="#000"/>
<circle cx="183.6" cy="476" r="3.1" fill="#000"/>
<circle cx="187.6" cy="489" r="3.1" fill="#000"/>
<circle cx="192.3" cy="495.8" r="3.1" fill="#000"/>
<circle cx="196.6" cy="466.6" r="3.1" fill="#000"/>
<circle cx="201" cy="484" r="3.1" fill="#000"/>
<circle cx="205.2" cy="452.7" r="3.1" fill="#000"/>
<circle cx="209.7" cy="473.2" r="3.1" fill="#000"/>
<circle cx="214.3" cy="445.7" r="3.1" fill="#000"/>
<circle cx="218.4" cy="447.6" r="3.1" fill="#000"/>
<circle cx="223" cy="473" r="3.1" fill="#000"/>
<circle cx="227.6" cy="460.1" r="3.1" fill="#000"/>
<circle cx="232.3" cy="443.9" r="3.1" fill="#000"/>
<circle cx="236.4" cy="434.8" r="3.1" fill="#000"/>
<circle cx="240.6" cy="507.2" r="3.1" fill="#000"/>
<circle cx="245" cy="491.2" r="3.1" fill="#000"/>
<circle cx="249.8" cy="499.5" r="3.1" fill="#000"/>
<circle cx="253.7" cy="510" r="3.1" fill="#000"/>
<circle cx="258.3" cy="517.3" r="3.1" fill="#000"/>
<circle cx="262.9" cy="457.4" r="3.1" fill="#000"/>
<circle cx="267.4" cy="487.6" r="3.1" fill="#000"/>
<circle cx="271.8" cy="472.4" r="3.1" fill="#000"/>
<circle cx="276.3" cy="497.8" r="3.1" fill="#000"/>
<circle cx="280.6" cy="478" r="3.1" fill="#000"/>
<circle cx="285" cy="465.2" r="3.1" fill="#000"/>
<circle cx="289.2" cy="456.8" r="3.1" fill="#000"/>
<circle cx="293.7" cy="489.9" r="3.1" fill="#000"/>
<circle cx="298" cy="475.9" r="3.1" fill="#000"/>
<circle cx="302.2" cy="480.5" r="3.1" fill="#000"/>
<circle cx="307" cy="468.9" r="3.1" fill="#000"/>
<circle cx="311.3" cy="480.8" r="3.1" fill="#000"/>
<circle cx="315.9" cy="491.2" r="3.1" fill="#000"/>
<circle cx="319.6" cy="470.5" r="3.1" fill="#000"/>
<circle cx="324.6" cy="481.5" r="3.1" fill="#000"/>
<circle cx="329.5" cy="482.5" r="3.1" fill="#000"/>
<circle cx="333.4" cy="429" r="3.1" fill="#000"/>
<circle cx="337.9" cy="451.9" r="3.1" fill="#000"/>
<circle cx="342" cy="479.4" r="3.1" fill="#000"/>
<circle cx="346.5" cy="488" r="3.1" fill="#000"/>
<circle cx="350.9" cy="497.8" r="3.1" fill="#000"/>
<circle cx="355.3" cy="476.3" r="3.1" fill="#000"/>
<circle cx="359.9" cy="468.5" r="3.1" fill="#000"/>
<circle cx="364.3" cy="463.8" r="3.1" fill="#000"/>
<circle cx="368.8" cy="446.7" r="3.1" fill="#000"/>
<circle cx="373.1" cy="426.2" r="3.1" fill="#000"/>
<circle cx="377.8" cy="434.1" r="3.1" fill="#000"/>
<circle cx="382" cy="454" r="3.1" fill="#000"/>
<circle cx="386.3" cy="468.2" r="3.1" fill="#000"/>
<circle cx="391.1" cy="472.7" r="3.1" fill="#000"/>
<circle cx="395" cy="487.4" r="3.1" fill="#000"/>
<circle cx="399.4" cy="480.8" r="3.1" fill="#000"/>
<circle cx="403.9" cy="475.5" r="3.1" fill="#000"/>
<circle cx="408.1" cy="436.8" r="3.1" fill="#000"/>
<circle cx="412.8" cy="477.2" r="3.1" fill="#000"/>
<circle cx="417" cy="483.4" r="3.1" fill="#000"/>
<circle cx="422" cy="481.3" r="3.1" fill="#000"/>
<circle cx="426.4" cy="480.6" r="3.1" fill="#000"/>
<circle cx="430.3" cy="495.9" r="3.1" fill="#000"/>
<circle cx="435.3" cy="498.4" r="3.1" fill="#000"/>
<circle cx="439.3" cy="443.6" r="3.1" fill="#000"/>
<circle cx="443.9" cy="449.9" r="3.1" fill="#000"/>
<circle cx="448" cy="454.1" r="3.1" fill="#000"/>
<circle cx="452.2" cy="488.8" r="3.1" fill="#000"/>
<circle cx="456.8" cy="503.4" r="3.1" fill="#000"/>
<circle cx="461.3" cy="455.5" r="3.1" fill="#000"/>
<circle cx="466.2" cy="454.3" r="3.1" fill="#000"/>
<circle cx="469.6" cy="495.1" r="3.1" fill="#000"/>
<circle cx="474.5" cy="495.8" r="3.1" fill="#000"/>
<circle cx="479.4" cy="494.4" r="3.1" fill="#000"/>
<circle cx="483.6" cy="456.2" r="3.1" fill="#000"/>
<circle cx="488" cy="455.5" r="3.1" fill="#000"/>
<circle cx="491.9" cy="511.5" r="3.1" fill="#000"/>
<circle cx="496.3" cy="471.5" r="3.1" fill="#000"/>
<circle cx="501.1" cy="500.8" r="3.1" fill="#000"/>
<circle cx="505.3" cy="465.9" r="3.1" fill="#000"/>
<circle cx="510.2" cy="509.5" r="3.1" fill="#000"/>
<circle cx="514.7" cy="534.2" r="3.1" fill="#000"/>
<circle cx="518.4" cy="545.1" r="3.1" fill="#000"/>
<circle cx="522.6" cy="549.3" r="3.1" fill="#000"/>
<circle cx="527.1" cy="552.6" r="3.1" fill="#000"/>
<circle cx="531.8" cy="543.4" r="3.1" fill="#000"/>
<circle cx="536" cy="576.6" r="3.1" fill="#000"/>
<circle cx="540.4" cy="513.3" r="3.1" fill="#000"/>
<circle cx="545.2" cy="576.6" r="3.1" fill="#000"/>
<circle cx="549.4" cy="605" r="3.1" fill="#000"/>
<circle cx="554.4" cy="574.4" r="3.1" fill="#000"/>
<circle cx="558.2" cy="547.1" r="3.1" fill="#000"/>
<circle cx="563.1" cy="517" r="3.1" fill="#000"/>
<circle cx="567.3" cy="492" r="3.1" fill="#000"/>
<circle cx="572.2" cy="476.7" r="3.1" fill="#000"/>
<circle cx="575.8" cy="382.5" r="3.1" fill="#000"/>
<g clip-path="url(#clipL)">
<path d="M130.8,70.0 L130.8,72.0 L130.8,74.0 L130.8,76.0 L130.9,78.0 L131.0,80.0 L131.0,82.0 L131.1,84.0 L131.2,86.0 L131.3,88.0 L131.4,90.0 L131.5,92.0 L131.6,94.0 L131.7,96.0 L131.8,98.0 L131.9,100.0 L132.1,102.0 L132.2,104.0 L132.3,106.0 L132.4,108.0 L132.5,110.0 L132.6,112.0 L132.7,113.9 L132.8,115.9 L133.0,117.9 L133.1,119.9 L133.2,121.9 L133.3,123.9 L133.4,125.9 L133.5,127.9 L133.6,129.9 L133.8,131.9 L133.9,133.9 L134.0,135.9 L134.1,137.9 L134.2,139.9 L134.3,141.9 L134.5,143.9 L134.6,145.9 L134.7,147.9 L134.8,149.9 L134.9,151.9 L135.0,153.9 L135.2,155.9 L135.3,157.9 L135.4,159.9 L135.5,161.9 L135.6,163.9 L135.7,165.9 L135.9,167.9 L136.0,169.9 L136.1,171.9 L136.2,173.9 L136.3,175.8 L136.4,177.8 L136.5,179.8 L136.6,181.8 L136.7,183.8 L136.9,185.8 L137.0,187.8 L137.1,189.8 L137.2,191.8 L137.3,193.8 L137.4,195.8 L137.5,197.8 L137.6,199.8 L137.8,201.8 L137.9,203.8 L138.0,205.8 L138.1,207.8 L138.2,209.8 L138.4,211.8 L138.5,213.8 L138.6,215.8 L138.7,217.8 L138.9,219.8 L139.0,221.8 L139.1,223.8 L139.3,225.8 L139.4,227.8 L139.6,229.7 L139.7,231.7 L139.9,233.7 L140.1,235.7 L140.2,237.7 L140.4,239.7 L140.6,241.7 L140.8,243.7 L141.0,245.7 L141.2,247.7 L141.4,249.7 L141.6,251.7 L141.8,253.6 L142.0,255.6 L142.2,257.6 L142.4,259.6 L142.6,261.6 L142.8,263.6 L143.1,265.6 L143.3,267.6 L143.5,269.6 L143.7,271.5 L143.9,273.5 L144.1,275.5 L144.3,277.5 L144.5,279.5 L144.7,281.5 L145.0,283.5 L145.2,285.5 L145.4,287.5 L145.6,289.4 L145.8,291.4 L146.0,293.4 L146.2,295.4 L146.4,297.4 L146.6,299.4 L146.8,301.4 L147.0,303.4 L147.2,305.4 L147.4,307.4 L147.6,309.3 L147.8,311.3 L148.0,313.3 L148.2,315.3 L148.4,317.3 L148.6,319.3 L148.7,321.3 L148.9,323.3 L149.1,325.3 L149.3,327.3 L149.5,329.3 L149.7,331.2 L149.9,333.2 L150.1,335.2 L150.3,337.2 L150.5,339.2 L150.7,341.2 L151.0,343.2 L151.2,345.2 L151.4,347.1 L151.7,349.1 L151.9,351.1 L152.1,353.1 L152.4,355.1 L152.7,357.1 L152.9,359.1 L153.2,361.0 L153.5,363.0 L153.7,365.0 L154.0,367.0 L154.3,369.0 L154.6,370.9 L154.9,372.9 L155.2,374.9 L155.6,376.9 L155.9,378.8 L156.2,380.8 L156.6,382.8 L157.0,384.7 L157.3,386.7 L157.7,388.7 L158.1,390.6 L158.5,392.6 L158.9,394.5 L159.3,396.5 L159.7,398.5 L160.1,400.4 L160.5,402.4 L161.0,404.3 L161.4,406.3 L161.9,408.2 L162.3,410.2 L162.8,412.1 L163.3,414.1 L163.7,416.0 L164.2,418.0 L164.7,419.9 L165.1,421.8 L165.6,423.8 L166.1,425.7 L166.5,427.7 L167.0,429.6 L167.4,431.6 L167.8,433.5 L168.2,435.5 L168.6,437.5 L169.0,439.4 L169.4,441.4 L169.7,443.3 L170.1,445.3 L170.5,447.3 L170.8,449.2 L171.2,451.2 L171.6,453.2 L172.1,455.1 L172.6,457.1 L173.1,459.0 L173.7,460.9 L174.4,462.8 L175.1,464.6 L175.9,466.4 L176.9,468.2 L177.8,469.9 L178.9,471.6 L180.0,473.3 L181.1,475.0 L182.3,476.6 L183.5,478.1 L184.8,479.6 L186.2,481.1 L187.7,482.4 L189.2,483.7 L190.8,484.8 L192.5,485.9 L194.3,486.7 L196.2,487.4 L198.1,487.8 L200.0,488.0 L202.0,487.9 L203.9,487.6 L205.9,487.2 L207.8,486.6 L209.7,486.0 L211.6,485.3 L213.4,484.5 L215.2,483.7 L217.1,482.9 L218.9,482.1 L220.7,481.3 L222.5,480.4 L224.3,479.6 L226.1,478.7 L228.0,477.9 L229.8,477.0 L231.6,476.2 L233.4,475.4 L235.3,474.6 L237.1,473.9 L239.0,473.1 L240.8,472.4 L242.7,471.7 L244.6,471.0 L246.5,470.3 L248.4,469.7 L250.3,469.1 L252.2,468.6 L254.2,468.2 L256.1,467.7 L258.1,467.3 L260.0,467.0 L262.0,466.6 L264.0,466.3 L266.0,466.1 L268.0,465.9 L270.0,465.8 L272.0,465.8 L273.9,465.8 L275.9,465.9 L277.9,466.1 L279.9,466.4 L281.9,466.7 L283.8,467.1 L285.8,467.5 L287.7,468.0 L289.7,468.5 L291.6,469.0 L293.5,469.5 L295.5,470.1 L297.4,470.6 L299.3,471.2 L301.2,471.7 L303.2,472.2 L305.1,472.8 L307.0,473.3 L308.9,473.9 L310.9,474.4 L312.8,474.9 L314.7,475.4 L316.7,475.9 L318.6,476.4 L320.5,476.9 L322.5,477.3 L324.5,477.8 L326.4,478.1 L328.4,478.5 L330.4,478.8 L332.3,479.1 L334.3,479.4 L336.3,479.6 L338.3,479.9 L340.3,480.1 L342.3,480.3 L344.3,480.5 L346.2,480.6 L348.2,480.6 L350.2,480.6 L352.2,480.5 L354.2,480.4 L356.2,480.1 L358.1,479.7 L360.1,479.2 L362.0,478.8 L364.0,478.3 L365.9,477.8 L367.9,477.3 L369.8,476.8 L371.7,476.3 L373.7,475.8 L375.6,475.2 L377.5,474.7 L379.4,474.2 L381.4,473.6 L383.3,473.0 L385.2,472.5 L387.1,471.9 L389.0,471.2 L390.9,470.6 L392.8,469.9 L394.6,469.1 L396.4,468.3 L398.2,467.5 L400.1,466.6 L401.9,465.7 L403.7,464.9 L405.5,464.0 L407.3,463.2 L409.1,462.4 L411.0,461.8 L412.9,461.2 L414.9,460.7 L416.8,460.3 L418.8,459.9 L420.7,459.6 L422.7,459.2 L424.7,458.8 L426.6,458.4 L428.6,458.0 L430.5,457.7 L432.5,457.4 L434.5,457.2 L436.5,457.1 L438.5,457.1 L440.5,457.3 L442.4,457.5 L444.4,457.9 L446.3,458.4 L448.3,458.9 L450.2,459.5 L452.1,460.1 L454.0,460.7 L455.8,461.4 L457.7,462.3 L459.4,463.2 L461.1,464.2 L462.8,465.4 L464.4,466.5 L465.9,467.8 L467.5,469.1 L469.0,470.4 L470.5,471.7 L471.9,473.1 L473.4,474.5 L474.8,475.9 L476.2,477.3 L477.5,478.8 L478.9,480.2 L480.2,481.7 L481.5,483.2 L482.8,484.8 L484.1,486.3 L485.3,487.9 L486.6,489.4 L487.8,491.0 L489.0,492.7 L490.1,494.3 L491.2,495.9 L492.3,497.6 L493.3,499.4 L494.3,501.1 L495.2,502.9 L496.2,504.6 L497.1,506.4 L498.1,508.1 L499.1,509.9 L500.0,511.6 L501.0,513.4 L502.0,515.1 L503.0,516.9 L503.9,518.6 L504.9,520.4 L505.9,522.1 L506.9,523.8 L507.9,525.6 L508.9,527.3 L509.9,529.0 L510.9,530.7 L512.0,532.5 L513.0,534.2 L514.1,535.9 L515.2,537.5 L516.3,539.2 L517.5,540.8 L518.7,542.4 L520.0,543.9 L521.3,545.4 L522.6,546.9 L524.0,548.3 L525.5,549.7 L526.9,551.0 L528.5,552.3 L530.0,553.6 L531.7,554.7 L533.4,555.7 L535.1,556.6 L537.0,557.1 L538.9,557.2 L540.8,556.9 L542.6,556.3 L544.3,555.3 L545.9,554.2 L547.4,552.9 L548.8,551.5 L550.1,550.0 L551.3,548.4 L552.4,546.7 L553.3,545.0 L554.2,543.2 L555.0,541.3 L555.7,539.5 L556.3,537.6 L556.9,535.7 L557.4,533.7 L558.0,531.8 L558.5,529.9 L559.1,528.0 L559.7,526.1 L560.2,524.1 L560.8,522.2 L561.3,520.3 L561.8,518.4 L562.3,516.4 L562.9,514.5 L563.4,512.6 L563.8,510.6 L564.3,508.7 L564.8,506.7 L565.2,504.8 L565.7,502.8 L566.1,500.9 L566.5,498.9 L567.0,497.0 L567.4,495.0 L567.8,493.1 L568.2,491.1 L568.5,489.1 L568.9,487.2 L569.3,485.2 L569.6,483.2 L570.0,481.3 L570.3,479.3 L570.7,477.3 L571.0,475.3 L571.3,473.4 L571.6,471.4 L571.9,469.4 L572.2,467.4 L572.5,465.5 L572.8,463.5 L573.1,461.5 L573.4,459.5 L573.6,457.5 L573.9,455.6 L574.1,453.6 L574.4,451.6 L574.6,449.6 L574.8,447.6 L575.0,445.6 L575.2,443.6 L575.4,441.6 L575.6,439.7 L575.8,437.7 L576.0,435.7 L576.2,433.7 L576.4,431.7 L576.7,429.7 L576.9,427.7 L577.1,425.7 L577.3,423.7 L577.5,421.8 L577.7,419.8 L578.0,417.8 L578.2,416.0 L578.4,414.2 L578.4,413.8" fill="none" stroke="#d6121e" stroke-width="3.1" stroke-linejoin="round"/>
</g>
<path d="M121.4,84.3 L121.4,599.3" fill="none" stroke="#2a2a2a" stroke-width="3" stroke-linecap="butt" stroke-linejoin="miter"/>
<path d="M115.5,605.2 L125.6,598.9" fill="none" stroke="#2a2a2a" stroke-width="3" stroke-linecap="butt" stroke-linejoin="miter"/>
<path d="M115.5,617 L125.6,610.8" fill="none" stroke="#2a2a2a" stroke-width="3" stroke-linecap="butt" stroke-linejoin="miter"/>
<path d="M121.4,612 L121.4,624.4 L590,624.4" fill="none" stroke="#2a2a2a" stroke-width="3" stroke-linecap="butt" stroke-linejoin="miter"/>
<text x="195.15" y="42.70" font-size="51" fill="#000">All Transitions</text>
<text x="73.35" y="125.00" font-size="36.3" fill="#000">.2</text>
<text x="73.35" y="216.30" font-size="36.3" fill="#000">.4</text>
<text x="70.75" y="311.30" font-size="36.3" fill="#000">.6</text>
<text x="69.45" y="395.80" font-size="36.3" fill="#000">.8</text>
<path d="M63.15,487.00 L59.96,487.00 L59.96,466.67 Q58.81,467.76 56.95,468.85 Q55.09,469.94 53.60,470.62 L53.60,467.54 Q56.22,466.30 58.19,464.60 Q60.16,462.89 60.97,461.30 L63.15,461.30 Z" fill="#000"/>
<text x="69.81" y="487.00" font-size="36.3" fill="#000">.0</text>
<path d="M63.15,575.70 L59.96,575.70 L59.96,555.37 Q58.81,556.46 56.95,557.55 Q55.09,558.64 53.60,559.32 L53.60,556.24 Q56.22,555.00 58.19,553.30 Q60.16,551.59 60.97,550.00 L63.15,550.00 Z" fill="#000"/>
<text x="69.81" y="575.70" font-size="36.3" fill="#000">.2</text>
<path d="M164.45,669.70 L161.26,669.70 L161.26,649.37 Q160.11,650.46 158.25,651.55 Q156.39,652.64 154.90,653.32 L154.90,650.24 Q157.52,649.00 159.49,647.30 Q161.46,645.59 162.27,644.00 L164.45,644.00 Z" fill="#000"/>
<text x="171.11" y="669.70" font-size="36.3" fill="#000">00 Duration-Normalized</text>
<text x="276.85" y="712.10" font-size="36" fill="#000">Time Bins</text>
<text transform="translate(30.40,658.60) rotate(-90)" font-size="36.15" fill="#000">Normalized Mean Transitions Per Bin</text>
<text transform="translate(168.40,150.90) rotate(-90)" font-size="30" fill="#ee0a0a">Prolog</text>
<text transform="translate(220.00,326.55) rotate(-90)" font-size="36.3" fill="#ee0a0a">Setup</text>
<text transform="translate(318.50,325.95) rotate(-90)" font-size="36.3" fill="#ee0a0a">Complication</text>
<text transform="translate(421.30,326.30) rotate(-90)" font-size="36.3" fill="#ee0a0a">Development</text>
<text transform="translate(527.50,327.15) rotate(-90)" font-size="36.3" fill="#ee0a0a">Climax</text>
<text transform="translate(608.10,412.90) rotate(-90)" font-size="30" fill="#ee0a0a">Epilog</text>
<clipPath id="clipR"><rect x="796" y="84.3" width="494" height="555.7"/></clipPath>
<g clip-path="url(#clipR)">
<path d="M824.0,80.0 L824.1,82.0 L824.2,84.0 L824.3,86.0 L824.5,88.0 L824.6,90.0 L824.7,92.0 L824.8,94.0 L824.9,96.0 L825.0,98.0 L825.1,100.0 L825.3,102.0 L825.4,104.0 L825.5,106.0 L825.6,108.0 L825.7,110.0 L825.8,111.9 L825.9,113.9 L826.0,115.9 L826.2,117.9 L826.3,119.9 L826.4,121.9 L826.5,123.9 L826.6,125.9 L826.7,127.9 L826.9,129.9 L827.0,131.9 L827.1,133.9 L827.2,135.9 L827.3,137.9 L827.4,139.9 L827.6,141.9 L827.7,143.9 L827.8,145.9 L827.9,147.9 L828.0,149.9 L828.2,151.9 L828.3,153.9 L828.4,155.9 L828.5,157.9 L828.7,159.9 L828.8,161.9 L828.9,163.9 L829.1,165.9 L829.2,167.8 L829.3,169.8 L829.5,171.8 L829.6,173.8 L829.7,175.8 L829.9,177.8 L830.0,179.8 L830.1,181.8 L830.3,183.8 L830.4,185.8 L830.5,187.8 L830.7,189.8 L830.8,191.8 L831.0,193.8 L831.1,195.8 L831.2,197.8 L831.4,199.8 L831.5,201.8 L831.7,203.8 L831.8,205.8 L832.0,207.8 L832.1,209.7 L832.3,211.7 L832.4,213.7 L832.6,215.7 L832.7,217.7 L832.9,219.7 L833.0,221.7 L833.2,223.7 L833.3,225.7 L833.5,227.7 L833.6,229.7 L833.8,231.7 L834.0,233.7 L834.1,235.7 L834.3,237.7 L834.5,239.7 L834.6,241.6 L834.8,243.6 L835.0,245.6 L835.2,247.6 L835.4,249.6 L835.6,251.6 L835.8,253.6 L836.0,255.6 L836.2,257.6 L836.5,259.5 L836.7,261.5 L837.0,263.5 L837.2,265.5 L837.5,267.5 L837.7,269.5 L838.0,271.5 L838.2,273.4 L838.4,275.4 L838.7,277.4 L838.9,279.4 L839.2,281.4 L839.4,283.4 L839.6,285.4 L839.8,287.3 L840.1,289.3 L840.3,291.3 L840.5,293.3 L840.7,295.3 L840.9,297.3 L841.2,299.3 L841.4,301.3 L841.6,303.2 L841.9,305.2 L842.1,307.2 L842.3,309.2 L842.6,311.2 L842.8,313.2 L843.1,315.2 L843.4,317.1 L843.6,319.1 L843.9,321.1 L844.2,323.1 L844.5,325.1 L844.8,327.0 L845.2,329.0 L845.5,331.0 L845.9,332.9 L846.2,334.9 L846.6,336.9 L847.0,338.8 L847.4,340.8 L847.8,342.8 L848.2,344.7 L848.6,346.7 L849.0,348.6 L849.4,350.6 L849.8,352.5 L850.2,354.5 L850.7,356.5 L851.1,358.4 L851.5,360.4 L851.9,362.3 L852.3,364.3 L852.7,366.2 L853.1,368.2 L853.6,370.2 L854.0,372.1 L854.4,374.1 L854.8,376.0 L855.2,378.0 L855.7,379.9 L856.1,381.9 L856.5,383.8 L857.0,385.8 L857.5,387.7 L857.9,389.7 L858.4,391.6 L858.9,393.5 L859.5,395.5 L860.0,397.4 L860.6,399.3 L861.2,401.2 L861.8,403.1 L862.3,405.0 L862.9,407.0 L863.4,408.9 L863.9,410.8 L864.3,412.8 L864.8,414.7 L865.2,416.7 L865.6,418.7 L866.0,420.6 L866.5,422.6 L867.0,424.5 L867.5,426.4 L868.2,428.3 L869.0,430.1 L869.9,431.9 L870.9,433.6 L872.0,435.3 L873.2,436.9 L874.4,438.5 L875.7,440.0 L877.1,441.4 L878.6,442.7 L880.2,443.8 L882.0,444.7 L883.9,445.3 L885.8,445.6 L887.8,445.8 L889.8,445.8 L891.7,445.6 L893.7,445.2 L895.6,444.7 L897.5,444.0 L899.3,443.2 L901.1,442.4 L902.9,441.6 L904.6,440.5 L906.1,439.3 L907.6,437.9 L909.0,436.5 L910.4,435.1 L911.7,433.6 L913.1,432.2 L914.5,430.7 L915.8,429.3 L917.2,427.8 L918.7,426.4 L920.1,425.0 L921.6,423.8 L923.2,422.6 L924.9,421.6 L926.8,420.8 L928.6,420.1 L930.4,419.2 L932.2,418.4 L934.0,417.5 L935.8,416.5 L937.5,415.6 L939.3,414.7 L941.1,413.8 L942.9,412.8 L944.7,411.9 L946.4,411.1 L948.3,410.2 L950.1,409.4 L951.9,408.6 L953.8,407.8 L955.6,407.2 L957.6,406.6 L959.5,406.1 L961.4,405.7 L963.4,405.5 L965.4,405.4 L967.4,405.4 L969.4,405.5 L971.4,405.7 L973.4,405.9 L975.4,406.1 L977.4,406.3 L979.4,406.4 L981.4,406.6 L983.4,406.7 L985.3,406.9 L987.3,407.0 L989.3,407.2 L991.3,407.4 L993.3,407.6 L995.3,407.8 L997.3,407.9 L999.3,408.0 L1001.3,408.1 L1003.3,408.2 L1005.3,408.2 L1007.3,408.2 L1009.3,408.1 L1011.3,408.1 L1013.3,408.0 L1015.3,407.9 L1017.3,407.8 L1019.3,407.7 L1021.3,407.5 L1023.3,407.4 L1025.3,407.3 L1027.3,407.1 L1029.3,406.9 L1031.2,406.7 L1033.2,406.5 L1035.2,406.3 L1037.2,406.1 L1039.2,405.8 L1041.2,405.5 L1043.1,405.0 L1045.0,404.4 L1046.9,403.8 L1048.8,403.1 L1050.6,402.3 L1052.5,401.6 L1054.3,400.8 L1056.1,400.0 L1058.0,399.2 L1059.8,398.4 L1061.6,397.5 L1063.4,396.7 L1065.3,395.9 L1067.1,395.0 L1068.9,394.2 L1070.7,393.4 L1072.5,392.5 L1074.3,391.7 L1076.1,390.8 L1078.0,390.0 L1079.8,389.2 L1081.6,388.4 L1083.4,387.5 L1085.3,386.7 L1087.1,385.9 L1088.9,385.1 L1090.7,384.3 L1092.6,383.4 L1094.4,382.6 L1096.2,381.7 L1098.0,380.9 L1099.8,380.0 L1101.6,379.1 L1103.4,378.3 L1105.2,377.4 L1107.0,376.6 L1108.8,375.8 L1110.7,375.0 L1112.6,374.3 L1114.4,373.6 L1116.3,373.0 L1118.3,372.5 L1120.2,372.1 L1122.2,371.8 L1124.2,371.7 L1126.2,371.6 L1128.2,371.8 L1130.1,372.1 L1132.1,372.5 L1134.0,373.1 L1135.8,373.9 L1137.6,374.7 L1139.4,375.6 L1141.1,376.6 L1142.9,377.6 L1144.6,378.7 L1146.2,379.8 L1147.9,380.9 L1149.4,382.1 L1151.0,383.4 L1152.5,384.7 L1154.1,386.0 L1155.6,387.3 L1157.0,388.6 L1158.5,390.0 L1159.9,391.4 L1161.4,392.8 L1162.8,394.2 L1164.2,395.6 L1165.6,397.1 L1167.0,398.5 L1168.3,400.0 L1169.7,401.5 L1170.9,403.0 L1172.2,404.6 L1173.3,406.2 L1174.5,407.8 L1175.5,409.5 L1176.6,411.2 L1177.6,413.0 L1178.6,414.7 L1179.6,416.4 L1180.6,418.1 L1181.6,419.9 L1182.5,421.7 L1183.4,423.4 L1184.4,425.2 L1185.4,426.9 L1186.5,428.6 L1187.7,430.2 L1188.9,431.7 L1190.2,433.3 L1191.5,434.8 L1192.8,436.3 L1194.1,437.8 L1195.4,439.4 L1196.6,441.0 L1197.8,442.6 L1198.9,444.2 L1200.0,445.9 L1201.0,447.6 L1202.2,449.3 L1203.3,450.9 L1204.6,452.4 L1206.0,453.8 L1207.5,455.2 L1209.0,456.5 L1210.6,457.7 L1212.2,458.8 L1213.9,459.9 L1215.6,460.9 L1217.4,461.8 L1219.2,462.3 L1221.0,462.3 L1222.8,461.7 L1224.4,460.6 L1225.8,459.3 L1227.1,457.8 L1228.4,456.2 L1229.6,454.6 L1230.7,453.0 L1231.9,451.3 L1233.0,449.7 L1234.1,448.0 L1235.2,446.3 L1236.3,444.7 L1237.2,442.9 L1238.0,441.1 L1238.6,439.2 L1239.2,437.3 L1239.6,435.3 L1240.0,433.4 L1240.4,431.4 L1240.7,429.4 L1241.1,427.5 L1241.4,425.5 L1241.7,423.5 L1242.1,421.6 L1242.4,419.6 L1242.7,417.6 L1243.0,415.6 L1243.4,413.7 L1243.7,411.7 L1244.0,409.7 L1244.3,407.7 L1244.6,405.7 L1244.9,403.8 L1245.2,401.8 L1245.5,399.8 L1245.9,397.9 L1246.2,395.9 L1246.6,393.9 L1247.0,392.0 L1247.3,390.0 L1247.7,388.0 L1248.0,386.0 L1248.3,384.1 L1248.6,382.1 L1248.9,380.1 L1249.2,378.1 L1249.5,376.2 L1249.7,374.2 L1250.0,372.2 L1250.2,370.2 L1250.5,368.2 L1250.7,366.2 L1251.0,364.2 L1251.2,362.3 L1251.5,360.3 L1251.7,358.3 L1252.0,356.3 L1252.2,354.3 L1252.4,352.3 L1252.7,350.4 L1252.9,348.4 L1253.1,346.4 L1253.3,344.4 L1253.5,342.4 L1253.7,340.4 L1253.9,338.4 L1254.0,336.4 L1254.2,334.4 L1254.3,332.4 L1254.5,330.4 L1254.6,328.4 L1254.7,326.4 L1254.8,324.4 L1254.9,322.4 L1255.0,320.5 L1255.1,318.5 L1255.3,316.5 L1255.4,314.5 L1255.5,312.5 L1255.6,310.5 L1255.7,308.5 L1255.8,306.5 L1255.9,304.5 L1256.0,302.5 L1256.2,300.5 L1256.3,298.5 L1256.4,296.5 L1256.6,294.5 L1256.7,292.5 L1256.9,290.5 L1257.0,288.5 L1257.2,286.5 L1257.3,284.5 L1257.5,282.5 L1257.6,280.5 L1257.8,278.5 L1257.9,276.5 L1258.1,274.6 L1258.2,272.6 L1258.4,270.7 L1258.5,269.0 L1259.5,269.0 L1259.5,271.0 L1259.5,273.0 L1259.5,275.0 L1259.5,277.0 L1259.5,279.0 L1259.5,281.0 L1259.5,283.0 L1259.5,285.0 L1259.5,287.0 L1259.5,289.0 L1259.5,291.0 L1259.5,293.0 L1259.5,295.0 L1259.5,297.0 L1259.5,299.0 L1259.5,301.0 L1259.5,303.0 L1259.5,305.0 L1259.5,307.0 L1259.5,309.0 L1259.5,311.0 L1259.5,313.0 L1259.5,315.0 L1259.5,317.0 L1259.5,319.0 L1259.5,321.0 L1259.5,323.0 L1259.5,325.0 L1259.5,327.0 L1259.5,329.0 L1259.6,331.0 L1259.6,333.0 L1259.6,335.0 L1259.6,337.0 L1259.6,339.0 L1259.6,341.0 L1259.6,343.0 L1259.6,345.0 L1259.6,347.0 L1259.6,349.0 L1259.6,351.0 L1259.6,353.0 L1259.6,355.0 L1259.6,357.0 L1259.6,359.0 L1259.6,361.0 L1259.6,363.0 L1259.6,365.0 L1259.6,367.0 L1259.6,369.0 L1259.6,371.0 L1259.6,373.0 L1259.6,375.0 L1259.6,377.0 L1259.6,379.0 L1259.6,381.0 L1259.6,383.0 L1259.6,385.0 L1259.6,387.0 L1259.6,389.0 L1259.6,391.0 L1259.6,393.0 L1259.6,395.0 L1259.6,397.0 L1259.6,399.0 L1259.6,401.0 L1259.6,403.0 L1259.6,405.0 L1259.6,407.0 L1259.6,409.0 L1259.6,411.0 L1259.6,413.0 L1259.5,415.0 L1259.5,417.0 L1259.5,419.0 L1259.5,421.0 L1259.5,423.0 L1259.5,425.0 L1259.5,427.0 L1259.5,429.0 L1259.5,431.0 L1259.5,433.0 L1259.5,435.0 L1259.5,437.0 L1259.4,439.0 L1259.4,441.0 L1259.4,443.0 L1259.4,445.0 L1259.3,447.0 L1259.3,449.0 L1259.2,451.0 L1259.1,453.0 L1258.9,455.0 L1258.7,457.0 L1258.6,459.0 L1258.5,461.0 L1258.3,463.0 L1258.2,465.0 L1258.1,467.0 L1258.0,468.9 L1257.9,470.9 L1257.7,472.9 L1257.6,474.9 L1257.4,476.9 L1257.3,478.9 L1257.2,480.9 L1257.0,482.9 L1256.9,484.9 L1256.7,486.9 L1256.6,488.9 L1256.4,490.9 L1256.3,492.9 L1256.2,494.9 L1256.0,496.9 L1255.9,498.9 L1255.7,500.9 L1255.6,502.9 L1255.4,504.9 L1255.3,506.9 L1255.1,508.8 L1255.0,510.8 L1254.8,512.8 L1254.6,514.8 L1254.5,516.8 L1254.3,518.8 L1254.1,520.8 L1253.9,522.8 L1253.6,524.8 L1253.2,526.7 L1252.8,528.7 L1252.4,530.7 L1252.1,532.6 L1251.7,534.6 L1251.4,536.6 L1251.0,538.5 L1250.7,540.5 L1250.3,542.5 L1250.0,544.4 L1249.6,546.4 L1249.2,548.4 L1248.8,550.3 L1248.4,552.3 L1248.0,554.2 L1247.5,556.2 L1247.1,558.1 L1246.7,560.1 L1246.2,562.0 L1245.7,564.0 L1245.2,565.9 L1244.8,567.9 L1244.3,569.8 L1243.8,571.7 L1243.2,573.7 L1242.7,575.6 L1242.2,577.5 L1241.6,579.4 L1241.1,581.4 L1240.5,583.3 L1240.0,585.2 L1239.4,587.1 L1238.8,589.0 L1238.2,591.0 L1237.6,592.9 L1237.0,594.8 L1236.4,596.7 L1235.8,598.6 L1235.1,600.4 L1234.4,602.3 L1233.7,604.2 L1233.0,606.1 L1232.2,607.9 L1231.5,609.8 L1230.7,611.6 L1229.8,613.4 L1228.9,615.2 L1227.8,616.8 L1226.6,618.4 L1225.2,619.5 L1223.5,620.2 L1221.6,620.5 L1219.6,620.6 L1217.6,620.5 L1215.7,620.2 L1213.9,619.6 L1212.2,618.6 L1210.8,617.3 L1209.4,615.9 L1208.2,614.3 L1207.0,612.7 L1205.7,611.1 L1204.5,609.5 L1203.3,608.0 L1202.1,606.4 L1200.9,604.7 L1199.8,603.1 L1198.6,601.5 L1197.6,599.8 L1196.6,598.1 L1195.6,596.3 L1194.7,594.5 L1193.8,592.7 L1192.8,591.0 L1191.8,589.3 L1190.8,587.5 L1189.8,585.8 L1188.8,584.1 L1187.8,582.3 L1186.8,580.6 L1185.7,578.9 L1184.7,577.2 L1183.6,575.5 L1182.5,573.8 L1181.5,572.2 L1180.4,570.5 L1179.3,568.8 L1178.1,567.2 L1177.0,565.5 L1175.9,563.9 L1174.7,562.3 L1173.4,560.8 L1172.0,559.3 L1170.7,557.8 L1169.5,556.2 L1168.2,554.6 L1167.0,553.1 L1165.8,551.5 L1164.6,549.9 L1163.4,548.3 L1162.2,546.7 L1161.0,545.1 L1159.7,543.5 L1158.5,542.0 L1157.2,540.5 L1155.8,539.0 L1154.5,537.5 L1153.1,536.0 L1151.7,534.6 L1150.3,533.2 L1148.8,531.8 L1147.3,530.5 L1145.8,529.3 L1144.2,528.1 L1142.5,527.0 L1140.8,526.0 L1139.0,525.0 L1137.2,524.3 L1135.3,523.6 L1133.4,523.1 L1131.4,522.7 L1129.5,522.5 L1127.5,522.3 L1125.5,522.3 L1123.5,522.3 L1121.5,522.3 L1119.5,522.5 L1117.5,522.7 L1115.5,523.1 L1113.6,523.5 L1111.7,524.0 L1109.8,524.6 L1107.9,525.3 L1106.0,526.1 L1104.2,526.9 L1102.5,527.9 L1100.7,528.8 L1099.0,529.8 L1097.3,530.8 L1095.5,531.8 L1093.8,532.8 L1092.0,533.7 L1090.2,534.7 L1088.5,535.6 L1086.7,536.4 L1084.9,537.3 L1083.1,538.2 L1081.2,539.0 L1079.4,539.9 L1077.6,540.7 L1075.8,541.6 L1074.0,542.4 L1072.2,543.3 L1070.4,544.1 L1068.6,544.9 L1066.7,545.8 L1064.9,546.6 L1063.1,547.4 L1061.3,548.2 L1059.4,549.0 L1057.6,549.8 L1055.8,550.6 L1053.9,551.4 L1052.1,552.1 L1050.2,552.8 L1048.3,553.4 L1046.4,554.0 L1044.4,554.4 L1042.4,554.6 L1040.5,554.6 L1038.5,554.6 L1036.5,554.7 L1034.5,554.8 L1032.5,555.0 L1030.5,555.1 L1028.5,555.3 L1026.5,555.5 L1024.5,555.7 L1022.5,555.8 L1020.5,556.0 L1018.5,556.1 L1016.5,556.3 L1014.5,556.4 L1012.5,556.4 L1010.5,556.5 L1008.5,556.6 L1006.5,556.6 L1004.5,556.6 L1002.5,556.5 L1000.5,556.5 L998.5,556.4 L996.5,556.3 L994.6,556.1 L992.6,556.0 L990.6,555.9 L988.6,555.7 L986.6,555.6 L984.6,555.4 L982.6,555.2 L980.6,555.1 L978.6,555.0 L976.6,554.8 L974.6,554.7 L972.6,554.6 L970.6,554.5 L968.6,554.4 L966.6,554.4 L964.6,554.4 L962.6,554.4 L960.6,554.5 L958.6,554.7 L956.7,555.1 L954.7,555.5 L952.8,556.1 L951.0,556.9 L949.3,557.9 L947.6,559.0 L946.0,560.2 L944.5,561.5 L943.0,562.8 L941.4,564.0 L939.8,565.1 L938.0,566.1 L936.2,566.9 L934.4,567.8 L932.7,568.7 L930.9,569.7 L929.3,570.8 L927.6,572.0 L926.0,573.2 L924.5,574.4 L922.9,575.7 L921.4,577.0 L919.8,578.2 L918.3,579.5 L916.8,580.8 L915.2,582.1 L913.7,583.3 L912.1,584.6 L910.6,585.8 L909.0,587.1 L907.5,588.4 L905.9,589.6 L904.4,590.9 L902.8,592.1 L901.2,593.4 L899.6,594.5 L898.0,595.7 L896.3,596.8 L894.6,597.9 L892.9,599.0 L891.2,599.9 L889.3,600.6 L887.4,601.0 L885.4,601.1 L883.5,601.0 L881.6,600.5 L879.8,599.8 L878.0,598.8 L876.4,597.6 L875.0,596.3 L873.6,594.8 L872.4,593.3 L871.2,591.7 L870.2,590.0 L869.1,588.3 L868.2,586.5 L867.2,584.7 L866.4,582.9 L865.5,581.1 L864.8,579.3 L864.0,577.4 L863.3,575.5 L862.7,573.7 L862.1,571.8 L861.5,569.8 L860.9,567.9 L860.3,566.0 L859.7,564.1 L859.2,562.2 L858.7,560.2 L858.1,558.3 L857.6,556.4 L857.1,554.5 L856.6,552.5 L856.1,550.6 L855.6,548.6 L855.1,546.7 L854.7,544.8 L854.2,542.8 L853.8,540.9 L853.3,538.9 L852.9,537.0 L852.5,535.0 L852.0,533.0 L851.6,531.1 L851.2,529.1 L850.8,527.2 L850.4,525.2 L850.0,523.3 L849.5,521.3 L849.1,519.4 L848.7,517.4 L848.3,515.4 L847.9,513.5 L847.5,511.5 L847.1,509.6 L846.7,507.6 L846.3,505.6 L845.9,503.7 L845.6,501.7 L845.3,499.7 L845.0,497.7 L844.8,495.8 L844.6,493.8 L844.4,491.8 L844.2,489.8 L844.0,487.8 L843.9,485.8 L843.7,483.8 L843.5,481.8 L843.3,479.8 L843.0,477.8 L842.8,475.9 L842.6,473.9 L842.3,471.9 L842.1,469.9 L841.8,467.9 L841.6,465.9 L841.3,464.0 L841.0,462.0 L840.8,460.0 L840.5,458.0 L840.3,456.0 L840.0,454.0 L839.7,452.1 L839.4,450.1 L839.1,448.1 L838.8,446.1 L838.5,444.1 L838.3,442.2 L838.0,440.2 L837.8,438.2 L837.6,436.2 L837.4,434.2 L837.2,432.2 L837.0,430.2 L836.9,428.2 L836.7,426.2 L836.6,424.2 L836.5,422.3 L836.4,420.3 L836.3,418.3 L836.2,416.3 L836.1,414.3 L836.1,412.3 L836.0,410.3 L835.9,408.3 L835.8,406.3 L835.7,404.3 L835.7,402.3 L835.6,400.3 L835.5,398.3 L835.4,396.3 L835.3,394.3 L835.2,392.3 L835.1,390.3 L835.0,388.3 L834.9,386.3 L834.8,384.3 L834.7,382.3 L834.5,380.3 L834.4,378.3 L834.2,376.3 L834.0,374.3 L833.9,372.3 L833.7,370.3 L833.5,368.3 L833.3,366.4 L833.1,364.4 L832.8,362.4 L832.6,360.4 L832.4,358.4 L832.2,356.4 L832.0,354.4 L831.8,352.4 L831.5,350.5 L831.3,348.5 L831.1,346.5 L830.9,344.5 L830.7,342.5 L830.5,340.5 L830.3,338.5 L830.1,336.5 L829.9,334.5 L829.7,332.5 L829.6,330.5 L829.4,328.6 L829.2,326.6 L829.0,324.6 L828.8,322.6 L828.7,320.6 L828.5,318.6 L828.3,316.6 L828.1,314.6 L828.0,312.6 L827.8,310.6 L827.6,308.6 L827.4,306.6 L827.3,304.6 L827.1,302.7 L826.9,300.7 L826.8,298.7 L826.6,296.7 L826.4,294.7 L826.2,292.7 L826.1,290.7 L825.9,288.7 L825.7,286.7 L825.6,284.7 L825.4,282.7 L825.2,280.7 L825.1,278.7 L824.9,276.8 L824.7,274.8 L824.6,272.8 L824.4,270.8 L824.2,268.8 L824.1,266.8 L823.9,264.8 L823.8,262.8 L823.6,260.8 L823.4,258.8 L823.3,256.8 L823.1,254.8 L823.0,252.8 L822.8,250.8 L822.7,248.8 L822.5,246.8 L822.4,244.9 L822.2,242.9 L822.1,240.9 L821.9,238.9 L821.8,236.9 L821.6,234.9 L821.5,232.9 L821.4,230.9 L821.2,228.9 L821.1,226.9 L820.9,224.9 L820.8,222.9 L820.7,220.9 L820.5,218.9 L820.4,216.9 L820.3,214.9 L820.2,212.9 L820.0,210.9 L819.9,208.9 L819.8,206.9 L819.7,204.9 L819.6,202.9 L819.4,200.9 L819.3,199.0 L819.2,197.0 L819.1,195.0 L819.0,193.0 L818.9,191.0 L818.8,189.0 L818.6,187.0 L818.5,185.0 L818.4,183.0 L818.3,181.0 L818.2,179.0 L818.1,177.0 L818.0,175.0 L817.9,173.0 L817.8,171.0 L817.7,169.0 L817.6,167.0 L817.5,165.0 L817.4,163.0 L817.3,161.0 L817.2,159.0 L817.1,157.0 L817.0,155.0 L816.9,153.0 L816.8,151.0 L816.7,149.0 L816.7,147.0 L816.6,145.0 L816.5,143.0 L816.4,141.0 L816.3,139.0 L816.2,137.0 L816.1,135.0 L816.0,133.0 L816.0,131.0 L815.9,129.0 L815.8,127.0 L815.7,125.0 L815.6,123.0 L815.6,121.0 L815.5,119.0 L815.4,117.0 L815.3,115.0 L815.2,113.1 L815.1,111.1 L815.1,109.1 L815.0,107.1 L814.9,105.1 L814.8,103.1 L814.7,101.1 L814.7,99.1 L814.6,97.1 L814.5,95.1 L814.4,93.1 L814.3,91.1 L814.3,89.1 L814.2,87.1 L814.1,85.1 L814.0,83.1 L814.0,81.3 L813.9,80.0 Z" fill="#d9d7fd" stroke="#f2b8d8" stroke-width="1"/>
<path d="M821.5,80.0 L821.6,82.0 L821.7,84.0 L821.9,86.0 L822.0,88.0 L822.1,90.0 L822.2,92.0 L822.4,94.0 L822.5,96.0 L822.6,98.0 L822.7,100.0 L822.9,102.0 L823.0,104.0 L823.1,105.9 L823.2,107.9 L823.4,109.9 L823.5,111.9 L823.6,113.9 L823.7,115.9 L823.9,117.9 L824.0,119.9 L824.1,121.9 L824.2,123.9 L824.4,125.9 L824.5,127.9 L824.6,129.9 L824.7,131.9 L824.9,133.9 L825.0,135.9 L825.1,137.9 L825.2,139.9 L825.4,141.9 L825.5,143.9 L825.6,145.9 L825.7,147.9 L825.9,149.9 L826.0,151.9 L826.1,153.9 L826.2,155.9 L826.4,157.8 L826.5,159.8 L826.6,161.8 L826.7,163.8 L826.9,165.8 L827.0,167.8 L827.1,169.8 L827.2,171.8 L827.3,173.8 L827.5,175.8 L827.6,177.8 L827.7,179.8 L827.8,181.8 L827.9,183.8 L828.1,185.8 L828.2,187.8 L828.3,189.8 L828.4,191.8 L828.5,193.8 L828.7,195.8 L828.8,197.8 L828.9,199.8 L829.0,201.8 L829.1,203.8 L829.3,205.8 L829.4,207.8 L829.5,209.8 L829.6,211.7 L829.8,213.7 L829.9,215.7 L830.0,217.7 L830.1,219.7 L830.3,221.7 L830.4,223.7 L830.5,225.7 L830.7,227.7 L830.8,229.7 L830.9,231.7 L831.1,233.7 L831.2,235.7 L831.3,237.7 L831.5,239.7 L831.6,241.7 L831.8,243.7 L831.9,245.7 L832.1,247.7 L832.2,249.7 L832.4,251.7 L832.6,253.6 L832.7,255.6 L832.9,257.6 L833.1,259.6 L833.2,261.6 L833.4,263.6 L833.6,265.6 L833.8,267.6 L834.0,269.6 L834.1,271.6 L834.3,273.6 L834.5,275.6 L834.7,277.5 L834.9,279.5 L835.1,281.5 L835.3,283.5 L835.5,285.5 L835.7,287.5 L835.9,289.5 L836.2,291.5 L836.4,293.5 L836.6,295.4 L836.8,297.4 L837.1,299.4 L837.3,301.4 L837.6,303.4 L837.8,305.4 L838.1,307.4 L838.3,309.3 L838.6,311.3 L838.8,313.3 L839.1,315.3 L839.3,317.3 L839.6,319.3 L839.8,321.2 L840.1,323.2 L840.3,325.2 L840.6,327.2 L840.8,329.2 L841.0,331.2 L841.3,333.2 L841.5,335.2 L841.7,337.1 L841.9,339.1 L842.1,341.1 L842.3,343.1 L842.5,345.1 L842.7,347.1 L843.0,349.1 L843.2,351.1 L843.4,353.1 L843.6,355.0 L843.8,357.0 L844.0,359.0 L844.2,361.0 L844.4,363.0 L844.6,365.0 L844.8,367.0 L845.0,369.0 L845.3,371.0 L845.5,372.9 L845.7,374.9 L845.9,376.9 L846.1,378.9 L846.4,380.9 L846.6,382.9 L846.9,384.9 L847.1,386.8 L847.4,388.8 L847.6,390.8 L847.9,392.8 L848.1,394.8 L848.4,396.8 L848.7,398.7 L849.0,400.7 L849.3,402.7 L849.5,404.7 L849.8,406.7 L850.1,408.6 L850.4,410.6 L850.8,412.6 L851.1,414.6 L851.4,416.5 L851.8,418.5 L852.1,420.5 L852.5,422.4 L852.9,424.4 L853.3,426.4 L853.7,428.3 L854.2,430.2 L854.7,432.2 L855.3,434.1 L856.0,436.0 L856.7,437.8 L857.6,439.6 L858.6,441.3 L859.7,443.0 L860.8,444.7 L862.0,446.2 L863.4,447.6 L864.9,449.0 L866.3,450.4 L867.6,451.9 L868.7,453.5 L869.8,455.2 L870.8,456.9 L871.7,458.7 L872.6,460.5 L873.6,462.2 L874.5,464.0 L875.6,465.7 L876.6,467.4 L877.8,469.0 L879.0,470.6 L880.2,472.2 L881.5,473.7 L882.9,475.1 L884.4,476.4 L886.0,477.6 L887.7,478.4 L889.6,478.8 L891.5,478.7 L893.4,478.2 L895.3,477.6 L897.1,476.8 L898.9,475.8 L900.6,474.8 L902.3,473.8 L904.0,472.7 L905.7,471.7 L907.5,470.7 L909.2,469.8 L911.0,468.9 L912.8,467.9 L914.5,467.0 L916.3,466.1 L918.1,465.1 L919.8,464.1 L921.5,463.2 L923.3,462.1 L925.0,461.1 L926.7,460.1 L928.4,459.0 L930.1,457.9 L931.8,456.9 L933.5,455.9 L935.2,454.8 L936.9,453.8 L938.7,452.9 L940.5,452.0 L942.3,451.1 L944.1,450.2 L945.9,449.4 L947.7,448.6 L949.6,447.9 L951.5,447.3 L953.4,446.7 L955.3,446.2 L957.3,445.8 L959.3,445.5 L961.3,445.4 L963.3,445.3 L965.3,445.3 L967.3,445.4 L969.2,445.5 L971.2,445.7 L973.2,445.8 L975.2,446.0 L977.2,446.2 L979.2,446.4 L981.2,446.6 L983.2,446.9 L985.2,447.1 L987.1,447.4 L989.1,447.6 L991.1,447.9 L993.1,448.2 L995.1,448.5 L997.1,448.7 L999.0,448.9 L1001.0,448.9 L1003.0,448.8 L1005.0,448.5 L1007.0,448.3 L1009.0,448.1 L1011.0,448.1 L1013.0,448.1 L1014.9,448.1 L1016.9,448.2 L1018.9,448.3 L1020.9,448.4 L1022.9,448.5 L1024.9,448.6 L1026.9,448.6 L1028.9,448.7 L1030.9,448.7 L1032.9,448.7 L1034.9,448.6 L1036.9,448.4 L1038.9,448.2 L1040.9,447.8 L1042.8,447.3 L1044.7,446.7 L1046.5,445.9 L1048.4,445.1 L1050.2,444.3 L1052.0,443.5 L1053.8,442.7 L1055.7,441.9 L1057.5,441.1 L1059.3,440.2 L1061.1,439.4 L1063.0,438.6 L1064.8,437.8 L1066.6,436.9 L1068.4,436.1 L1070.2,435.3 L1072.1,434.4 L1073.9,433.6 L1075.7,432.8 L1077.6,432.0 L1079.4,431.3 L1081.3,430.5 L1083.1,429.7 L1085.0,429.0 L1086.8,428.3 L1088.7,427.5 L1090.5,426.8 L1092.4,426.0 L1094.2,425.3 L1096.1,424.5 L1097.9,423.8 L1099.8,423.0 L1101.6,422.1 L1103.4,421.3 L1105.2,420.4 L1107.0,419.5 L1108.8,418.6 L1110.6,417.8 L1112.4,416.9 L1114.2,416.1 L1116.1,415.4 L1118.0,414.7 L1119.9,414.1 L1121.8,413.7 L1123.8,413.4 L1125.8,413.3 L1127.8,413.2 L1129.8,413.3 L1131.8,413.5 L1133.7,413.7 L1135.7,414.1 L1137.7,414.5 L1139.6,415.0 L1141.5,415.5 L1143.4,416.2 L1145.2,417.1 L1146.9,418.0 L1148.6,419.1 L1150.2,420.3 L1151.7,421.6 L1153.1,423.0 L1154.5,424.4 L1155.8,426.0 L1157.0,427.5 L1158.3,429.1 L1159.5,430.7 L1160.8,432.2 L1162.1,433.7 L1163.4,435.2 L1164.8,436.7 L1166.1,438.2 L1167.5,439.6 L1168.8,441.1 L1170.2,442.6 L1171.5,444.0 L1172.9,445.5 L1174.2,447.0 L1175.6,448.5 L1176.9,450.0 L1178.2,451.5 L1179.5,453.0 L1180.8,454.5 L1182.1,456.1 L1183.3,457.7 L1184.5,459.2 L1185.8,460.8 L1187.0,462.4 L1188.3,463.9 L1189.6,465.5 L1190.8,467.0 L1192.1,468.5 L1193.4,470.1 L1194.7,471.6 L1196.0,473.1 L1197.3,474.6 L1198.6,476.1 L1199.9,477.6 L1201.2,479.2 L1202.6,480.6 L1203.9,482.1 L1205.3,483.6 L1206.7,485.0 L1208.0,486.5 L1209.4,488.0 L1210.8,489.4 L1212.2,490.8 L1213.6,492.2 L1215.1,493.6 L1216.6,494.8 L1218.3,495.7 L1220.1,496.3 L1222.0,496.3 L1223.7,495.7 L1225.4,494.7 L1226.9,493.5 L1228.3,492.1 L1229.6,490.6 L1230.9,489.1 L1232.2,487.5 L1233.4,485.9 L1234.5,484.2 L1235.5,482.5 L1236.5,480.8 L1237.3,479.0 L1238.1,477.1 L1238.9,475.3 L1239.5,473.4 L1240.1,471.5 L1240.6,469.5 L1241.1,467.6 L1241.5,465.7 L1241.9,463.7 L1242.4,461.7 L1242.8,459.8 L1243.2,457.8 L1243.6,455.9 L1243.9,453.9 L1244.3,451.9 L1244.6,450.0 L1244.9,448.0 L1245.2,446.0 L1245.5,444.0 L1245.7,442.0 L1246.0,440.1 L1246.2,438.1 L1246.5,436.1 L1246.7,434.1 L1247.0,432.1 L1247.2,430.1 L1247.4,428.1 L1247.7,426.2 L1247.9,424.2 L1248.1,422.2 L1248.3,420.2 L1248.6,418.2 L1248.8,416.2 L1249.0,414.2 L1249.2,412.2 L1249.5,410.3 L1249.7,408.3 L1249.9,406.3 L1250.2,404.3 L1250.4,402.3 L1250.7,400.3 L1250.9,398.3 L1251.1,396.4 L1251.4,394.4 L1251.6,392.4 L1251.9,390.4 L1252.1,388.4 L1252.3,386.4 L1252.5,384.4 L1252.7,382.5 L1252.9,380.5 L1253.1,378.5 L1253.3,376.5 L1253.5,374.5 L1253.7,372.5 L1253.9,370.5 L1254.0,368.5 L1254.2,366.5 L1254.4,364.5 L1254.5,362.5 L1254.7,360.5 L1254.9,358.5 L1255.0,356.6 L1255.2,354.6 L1255.3,352.6 L1255.5,350.6 L1255.6,348.6 L1255.7,346.6 L1255.9,344.6 L1256.0,342.6 L1256.2,340.6 L1256.3,338.6 L1256.4,336.6 L1256.6,334.6 L1256.7,332.6 L1256.8,330.6 L1256.9,328.6 L1257.1,326.6 L1257.2,324.6 L1257.3,322.6 L1257.5,320.6 L1257.6,318.6 L1257.7,316.6 L1257.9,314.7 L1258.0,312.7 L1258.1,310.7 L1258.2,308.7 L1258.4,306.7 L1258.5,304.7 L1258.6,302.8 L1258.7,300.9 L1258.8,300.0 L1259.3,300.0 L1259.3,302.0 L1259.3,304.0 L1259.3,306.0 L1259.3,308.0 L1259.3,310.0 L1259.3,312.0 L1259.3,314.0 L1259.3,316.0 L1259.3,318.0 L1259.3,320.0 L1259.3,322.0 L1259.3,324.0 L1259.3,326.0 L1259.3,328.0 L1259.3,330.0 L1259.3,332.0 L1259.3,334.0 L1259.3,336.0 L1259.3,338.0 L1259.3,340.0 L1259.4,342.0 L1259.4,344.0 L1259.4,346.0 L1259.4,348.0 L1259.4,350.0 L1259.4,352.0 L1259.4,354.0 L1259.4,356.0 L1259.4,358.0 L1259.4,360.0 L1259.4,362.0 L1259.4,364.0 L1259.4,366.0 L1259.4,368.0 L1259.4,370.0 L1259.4,372.0 L1259.4,374.0 L1259.4,376.0 L1259.4,378.0 L1259.4,380.0 L1259.4,382.0 L1259.4,384.0 L1259.4,386.0 L1259.4,388.0 L1259.4,390.0 L1259.4,392.0 L1259.4,394.0 L1259.4,396.0 L1259.4,398.0 L1259.4,400.0 L1259.4,402.0 L1259.4,404.0 L1259.4,406.0 L1259.4,408.0 L1259.4,410.0 L1259.4,412.0 L1259.4,414.0 L1259.4,416.0 L1259.4,418.0 L1259.4,420.0 L1259.4,422.0 L1259.4,424.0 L1259.4,426.0 L1259.4,428.0 L1259.3,430.0 L1259.3,432.0 L1259.3,434.0 L1259.3,436.0 L1259.3,438.0 L1259.3,440.0 L1259.3,442.0 L1259.3,444.0 L1259.2,446.0 L1259.2,448.0 L1259.2,450.0 L1259.2,452.0 L1259.1,454.0 L1259.1,456.0 L1259.1,458.0 L1259.0,460.0 L1259.0,462.0 L1258.9,464.0 L1258.8,466.0 L1258.8,468.0 L1258.6,470.0 L1258.5,472.0 L1258.4,474.0 L1258.3,476.0 L1258.1,478.0 L1258.0,480.0 L1257.9,482.0 L1257.8,484.0 L1257.6,486.0 L1257.5,488.0 L1257.4,489.9 L1257.2,491.9 L1257.1,493.9 L1256.9,495.9 L1256.6,497.9 L1256.4,499.9 L1256.1,501.9 L1255.7,503.8 L1255.2,505.8 L1254.7,507.7 L1254.0,509.6 L1253.3,511.4 L1252.4,513.2 L1251.6,515.0 L1250.6,516.8 L1249.7,518.6 L1248.8,520.3 L1247.8,522.1 L1246.8,523.8 L1245.9,525.6 L1245.2,527.4 L1244.7,529.3 L1244.2,531.3 L1243.8,533.2 L1243.4,535.2 L1243.1,537.2 L1242.7,539.1 L1242.3,541.1 L1242.0,543.1 L1241.6,545.0 L1241.2,547.0 L1240.8,548.9 L1240.3,550.9 L1239.8,552.8 L1239.3,554.8 L1238.7,556.7 L1238.1,558.6 L1237.5,560.5 L1236.9,562.4 L1236.3,564.3 L1235.7,566.2 L1235.1,568.1 L1234.5,570.0 L1233.9,571.9 L1233.4,573.9 L1232.9,575.8 L1232.4,577.8 L1231.9,579.7 L1231.2,581.5 L1230.2,583.1 L1228.8,584.5 L1227.2,585.4 L1225.4,586.0 L1223.4,586.2 L1221.4,586.3 L1219.5,586.1 L1217.5,585.7 L1215.6,585.2 L1213.8,584.4 L1212.1,583.4 L1210.5,582.2 L1209.0,580.9 L1207.6,579.4 L1206.4,577.9 L1205.1,576.3 L1204.0,574.7 L1202.9,573.0 L1201.9,571.3 L1200.9,569.6 L1199.9,567.8 L1198.9,566.1 L1197.9,564.4 L1196.8,562.7 L1195.8,561.0 L1194.7,559.3 L1193.7,557.6 L1192.7,555.8 L1191.6,554.1 L1190.6,552.4 L1189.6,550.7 L1188.6,548.9 L1187.6,547.2 L1186.7,545.5 L1185.7,543.7 L1184.7,541.9 L1183.8,540.2 L1182.9,538.4 L1182.0,536.6 L1181.2,534.8 L1180.3,533.0 L1179.5,531.1 L1178.7,529.3 L1177.9,527.5 L1177.1,525.7 L1176.2,523.9 L1175.4,522.1 L1174.4,520.3 L1173.5,518.5 L1172.5,516.8 L1171.5,515.0 L1170.4,513.4 L1169.2,511.8 L1168.0,510.2 L1166.7,508.7 L1165.3,507.2 L1163.9,505.8 L1162.5,504.4 L1161.1,503.0 L1159.6,501.6 L1158.2,500.3 L1156.7,498.9 L1155.2,497.5 L1153.8,496.2 L1152.3,494.8 L1150.8,493.5 L1149.2,492.3 L1147.6,491.1 L1146.0,489.9 L1144.3,488.9 L1142.5,488.0 L1140.7,487.1 L1138.9,486.3 L1137.0,485.6 L1135.2,484.8 L1133.3,484.2 L1131.4,483.6 L1129.4,483.1 L1127.5,482.7 L1125.5,482.5 L1123.6,482.6 L1121.6,482.9 L1119.7,483.4 L1117.7,483.9 L1115.8,484.4 L1113.9,485.0 L1112.0,485.5 L1110.1,486.1 L1108.2,486.8 L1106.3,487.4 L1104.4,488.0 L1102.5,488.7 L1100.6,489.4 L1098.8,490.1 L1096.9,490.9 L1095.1,491.7 L1093.2,492.5 L1091.4,493.3 L1089.6,494.2 L1087.8,495.0 L1086.0,495.9 L1084.2,496.8 L1082.4,497.6 L1080.6,498.4 L1078.7,499.2 L1076.9,500.0 L1075.0,500.7 L1073.2,501.4 L1071.3,502.1 L1069.4,502.8 L1067.5,503.5 L1065.7,504.2 L1063.8,504.9 L1061.9,505.5 L1060.0,506.2 L1058.1,506.8 L1056.2,507.5 L1054.3,508.2 L1052.4,508.8 L1050.6,509.5 L1048.7,510.2 L1046.9,511.0 L1045.0,511.8 L1043.2,512.7 L1041.4,513.5 L1039.5,514.2 L1037.6,514.7 L1035.7,515.1 L1033.7,515.3 L1031.7,515.3 L1029.7,515.2 L1027.7,515.0 L1025.7,514.7 L1023.8,514.4 L1021.8,514.1 L1019.8,513.9 L1017.8,513.7 L1015.8,513.6 L1013.8,513.5 L1011.8,513.5 L1009.8,513.5 L1007.8,513.6 L1005.8,513.7 L1003.8,513.7 L1001.8,513.9 L999.8,514.0 L997.8,514.1 L995.8,514.3 L993.8,514.4 L991.9,514.5 L989.9,514.7 L987.9,514.9 L985.9,515.0 L983.9,515.2 L981.9,515.3 L979.9,515.5 L977.9,515.7 L975.9,515.9 L973.9,516.1 L971.9,516.3 L969.9,516.5 L968.0,516.7 L966.0,517.0 L964.0,517.3 L962.0,517.6 L960.1,518.0 L958.1,518.5 L956.2,519.1 L954.4,519.9 L952.6,520.7 L950.8,521.6 L949.0,522.6 L947.3,523.6 L945.6,524.6 L943.9,525.7 L942.2,526.8 L940.6,527.9 L938.9,529.0 L937.3,530.1 L935.6,531.2 L933.9,532.3 L932.3,533.5 L930.6,534.5 L928.9,535.6 L927.2,536.6 L925.4,537.6 L923.7,538.6 L922.0,539.6 L920.2,540.6 L918.6,541.7 L916.9,542.8 L915.3,544.0 L913.7,545.2 L912.1,546.4 L910.5,547.6 L908.9,548.8 L907.3,550.0 L905.8,551.3 L904.2,552.5 L902.6,553.8 L901.1,555.0 L899.5,556.3 L897.9,557.5 L896.3,558.6 L894.5,559.6 L892.7,560.4 L890.9,561.1 L889.0,561.6 L887.0,561.9 L885.0,562.0 L883.0,561.9 L881.1,561.7 L879.1,561.2 L877.3,560.6 L875.5,559.7 L873.8,558.7 L872.3,557.4 L870.9,556.0 L869.7,554.4 L868.6,552.8 L867.6,551.0 L866.7,549.3 L865.8,547.4 L865.1,545.6 L864.4,543.7 L863.8,541.8 L863.3,539.9 L862.8,537.9 L862.3,536.0 L861.8,534.1 L861.3,532.1 L860.9,530.2 L860.4,528.2 L859.9,526.3 L859.4,524.3 L858.9,522.4 L858.4,520.5 L857.9,518.6 L857.3,516.6 L856.8,514.7 L856.2,512.8 L855.7,510.9 L855.2,508.9 L854.7,507.0 L854.2,505.0 L853.7,503.1 L853.3,501.2 L852.9,499.2 L852.5,497.2 L852.1,495.3 L851.7,493.3 L851.4,491.3 L851.0,489.4 L850.7,487.4 L850.4,485.4 L850.1,483.4 L849.8,481.5 L849.5,479.5 L849.2,477.5 L848.9,475.5 L848.6,473.6 L848.2,471.6 L847.9,469.6 L847.6,467.6 L847.3,465.7 L847.0,463.7 L846.6,461.7 L846.3,459.7 L846.0,457.8 L845.7,455.8 L845.4,453.8 L845.1,451.8 L844.8,449.9 L844.5,447.9 L844.3,445.9 L844.0,443.9 L843.7,441.9 L843.5,439.9 L843.2,438.0 L843.0,436.0 L842.8,434.0 L842.5,432.0 L842.3,430.0 L842.0,428.0 L841.8,426.0 L841.6,424.1 L841.3,422.1 L841.1,420.1 L840.9,418.1 L840.6,416.1 L840.4,414.1 L840.2,412.1 L840.0,410.1 L839.7,408.2 L839.5,406.2 L839.3,404.2 L839.1,402.2 L838.9,400.2 L838.7,398.2 L838.4,396.2 L838.2,394.2 L838.0,392.3 L837.8,390.3 L837.6,388.3 L837.4,386.3 L837.2,384.3 L837.0,382.3 L836.8,380.3 L836.6,378.3 L836.5,376.3 L836.3,374.3 L836.1,372.3 L836.0,370.4 L835.8,368.4 L835.6,366.4 L835.5,364.4 L835.3,362.4 L835.2,360.4 L835.1,358.4 L834.9,356.4 L834.8,354.4 L834.7,352.4 L834.6,350.4 L834.4,348.4 L834.3,346.4 L834.2,344.4 L834.0,342.4 L833.9,340.4 L833.8,338.4 L833.6,336.4 L833.5,334.4 L833.4,332.4 L833.2,330.4 L833.1,328.4 L833.0,326.5 L832.8,324.5 L832.7,322.5 L832.5,320.5 L832.4,318.5 L832.3,316.5 L832.1,314.5 L832.0,312.5 L831.8,310.5 L831.7,308.5 L831.6,306.5 L831.4,304.5 L831.3,302.5 L831.1,300.5 L831.0,298.5 L830.9,296.5 L830.7,294.5 L830.6,292.5 L830.4,290.5 L830.3,288.5 L830.2,286.6 L830.0,284.6 L829.9,282.6 L829.8,280.6 L829.6,278.6 L829.5,276.6 L829.3,274.6 L829.2,272.6 L829.1,270.6 L828.9,268.6 L828.8,266.6 L828.7,264.6 L828.5,262.6 L828.4,260.6 L828.2,258.6 L828.1,256.6 L828.0,254.6 L827.8,252.6 L827.7,250.6 L827.6,248.6 L827.4,246.6 L827.3,244.6 L827.2,242.7 L827.0,240.7 L826.9,238.7 L826.8,236.7 L826.7,234.7 L826.5,232.7 L826.4,230.7 L826.3,228.7 L826.1,226.7 L826.0,224.7 L825.9,222.7 L825.8,220.7 L825.7,218.7 L825.5,216.7 L825.4,214.7 L825.3,212.7 L825.2,210.7 L825.0,208.7 L824.9,206.7 L824.8,204.7 L824.7,202.7 L824.6,200.7 L824.4,198.7 L824.3,196.7 L824.2,194.7 L824.1,192.7 L824.0,190.8 L823.8,188.8 L823.7,186.8 L823.6,184.8 L823.5,182.8 L823.4,180.8 L823.2,178.8 L823.1,176.8 L823.0,174.8 L822.8,172.8 L822.7,170.8 L822.6,168.8 L822.5,166.8 L822.3,164.8 L822.2,162.8 L822.1,160.8 L821.9,158.8 L821.8,156.8 L821.6,154.8 L821.5,152.8 L821.4,150.8 L821.2,148.8 L821.1,146.8 L820.9,144.9 L820.8,142.9 L820.6,140.9 L820.5,138.9 L820.3,136.9 L820.2,134.9 L820.0,132.9 L819.9,130.9 L819.7,128.9 L819.6,126.9 L819.4,124.9 L819.3,122.9 L819.1,120.9 L819.0,118.9 L818.8,116.9 L818.7,114.9 L818.5,112.9 L818.4,110.9 L818.2,109.0 L818.1,107.0 L817.9,105.0 L817.8,103.0 L817.6,101.0 L817.5,99.0 L817.3,97.0 L817.1,95.0 L817.0,93.0 L816.8,91.0 L816.7,89.0 L816.5,87.0 L816.4,85.0 L816.2,83.1 L816.1,81.3 L816.0,80.0 Z" fill="#c0b4e8" stroke="none"/>
</g>
<line x1="923.2" y1="211" x2="923.2" y2="599.8" stroke="#909090" stroke-width="2.6"/>
<line x1="1038.3" y1="211" x2="1038.3" y2="599.8" stroke="#909090" stroke-width="2.6"/>
<line x1="1156" y1="211" x2="1156" y2="599.8" stroke="#909090" stroke-width="2.6"/>
<circle cx="823" cy="119.8" r="3.1" fill="#000"/>
<circle cx="845" cy="471.8" r="3.1" fill="#000"/>
<circle cx="867.5" cy="495.8" r="3.1" fill="#000"/>
<circle cx="890.3" cy="484.2" r="3.1" fill="#000"/>
<circle cx="912.7" cy="495.7" r="3.1" fill="#000"/>
<circle cx="935.7" cy="504.5" r="3.1" fill="#000"/>
<circle cx="958.2" cy="479.6" r="3.1" fill="#000"/>
<circle cx="980.7" cy="514.5" r="3.1" fill="#000"/>
<circle cx="1004" cy="466.5" r="3.1" fill="#000"/>
<circle cx="1026.9" cy="517.2" r="3.1" fill="#000"/>
<circle cx="1049.5" cy="442" r="3.1" fill="#000"/>
<circle cx="1072.5" cy="437.2" r="3.1" fill="#000"/>
<circle cx="1095.1" cy="471.3" r="3.1" fill="#000"/>
<circle cx="1117.6" cy="452.6" r="3.1" fill="#000"/>
<circle cx="1140.2" cy="447.7" r="3.1" fill="#000"/>
<circle cx="1162.7" cy="492.8" r="3.1" fill="#000"/>
<circle cx="1186.2" cy="498.2" r="3.1" fill="#000"/>
<circle cx="1208.4" cy="541.9" r="3.1" fill="#000"/>
<circle cx="1231.5" cy="514.9" r="3.1" fill="#000"/>
<circle cx="1254.6" cy="437" r="3.1" fill="#000"/>
<g clip-path="url(#clipR)">
<path d="M818.3,70.0 L818.3,72.0 L818.3,74.0 L818.3,76.0 L818.4,78.0 L818.5,80.0 L818.6,82.0 L818.8,84.0 L818.9,86.0 L819.1,88.0 L819.2,90.0 L819.4,92.0 L819.5,94.0 L819.7,95.9 L819.8,97.9 L820.0,99.9 L820.2,101.9 L820.3,103.9 L820.5,105.9 L820.6,107.9 L820.8,109.9 L821.0,111.9 L821.1,113.9 L821.3,115.9 L821.5,117.9 L821.6,119.9 L821.8,121.9 L821.9,123.9 L822.1,125.9 L822.2,127.8 L822.4,129.8 L822.5,131.8 L822.7,133.8 L822.8,135.8 L823.0,137.8 L823.1,139.8 L823.3,141.8 L823.4,143.8 L823.5,145.8 L823.7,147.8 L823.8,149.8 L823.9,151.8 L824.0,153.8 L824.2,155.8 L824.3,157.8 L824.4,159.8 L824.5,161.8 L824.6,163.8 L824.7,165.8 L824.8,167.8 L824.9,169.8 L825.1,171.8 L825.2,173.8 L825.3,175.7 L825.4,177.7 L825.5,179.7 L825.6,181.7 L825.7,183.7 L825.8,185.7 L825.9,187.7 L826.0,189.7 L826.1,191.7 L826.2,193.7 L826.3,195.7 L826.4,197.7 L826.5,199.7 L826.6,201.7 L826.7,203.7 L826.8,205.7 L826.9,207.7 L827.0,209.7 L827.1,211.7 L827.2,213.7 L827.3,215.7 L827.4,217.7 L827.5,219.7 L827.7,221.7 L827.8,223.7 L827.9,225.7 L828.0,227.7 L828.1,229.7 L828.2,231.7 L828.3,233.7 L828.4,235.7 L828.6,237.7 L828.7,239.7 L828.8,241.7 L828.9,243.7 L829.1,245.6 L829.2,247.6 L829.3,249.6 L829.5,251.6 L829.6,253.6 L829.7,255.6 L829.9,257.6 L830.0,259.6 L830.2,261.6 L830.3,263.6 L830.4,265.6 L830.6,267.6 L830.7,269.6 L830.9,271.6 L831.1,273.6 L831.2,275.6 L831.4,277.6 L831.5,279.6 L831.7,281.5 L831.9,283.5 L832.0,285.5 L832.2,287.5 L832.4,289.5 L832.5,291.5 L832.7,293.5 L832.9,295.5 L833.1,297.5 L833.2,299.5 L833.4,301.5 L833.6,303.5 L833.8,305.5 L834.0,307.4 L834.2,309.4 L834.4,311.4 L834.6,313.4 L834.8,315.4 L835.0,317.4 L835.2,319.4 L835.4,321.4 L835.6,323.4 L835.8,325.4 L836.0,327.3 L836.2,329.3 L836.4,331.3 L836.6,333.3 L836.9,335.3 L837.1,337.3 L837.3,339.3 L837.5,341.3 L837.7,343.3 L837.8,345.3 L838.0,347.2 L838.2,349.2 L838.4,351.2 L838.6,353.2 L838.8,355.2 L839.0,357.2 L839.2,359.2 L839.4,361.2 L839.6,363.2 L839.8,365.2 L840.0,367.1 L840.2,369.1 L840.4,371.1 L840.6,373.1 L840.8,375.1 L841.0,377.1 L841.3,379.1 L841.5,381.1 L841.7,383.1 L841.9,385.0 L842.2,387.0 L842.4,389.0 L842.6,391.0 L842.9,393.0 L843.1,395.0 L843.4,397.0 L843.6,398.9 L843.9,400.9 L844.1,402.9 L844.4,404.9 L844.6,406.9 L844.9,408.9 L845.1,410.8 L845.3,412.8 L845.6,414.8 L845.8,416.8 L846.1,418.8 L846.3,420.8 L846.6,422.8 L846.8,424.7 L847.0,426.7 L847.3,428.7 L847.5,430.7 L847.8,432.7 L848.1,434.7 L848.3,436.6 L848.6,438.6 L848.9,440.6 L849.2,442.6 L849.5,444.6 L849.8,446.5 L850.2,448.5 L850.5,450.5 L850.9,452.4 L851.2,454.4 L851.6,456.4 L852.0,458.3 L852.4,460.3 L852.8,462.3 L853.1,464.2 L853.5,466.2 L853.9,468.1 L854.3,470.1 L854.7,472.1 L855.2,474.0 L855.6,476.0 L856.1,477.9 L856.6,479.8 L857.1,481.8 L857.7,483.7 L858.2,485.6 L858.8,487.5 L859.5,489.4 L860.1,491.3 L860.8,493.2 L861.5,495.1 L862.3,496.9 L863.0,498.8 L863.8,500.6 L864.7,502.4 L865.6,504.2 L866.5,506.0 L867.4,507.7 L868.4,509.5 L869.4,511.2 L870.5,512.9 L871.7,514.5 L872.9,516.1 L874.2,517.6 L875.6,518.9 L877.2,520.2 L878.8,521.3 L880.5,522.3 L882.3,523.0 L884.2,523.5 L886.2,523.8 L888.1,523.8 L890.1,523.5 L891.9,522.9 L893.8,522.2 L895.5,521.2 L897.1,520.1 L898.7,518.9 L900.2,517.6 L901.8,516.3 L903.3,515.1 L904.9,513.8 L906.4,512.5 L907.9,511.2 L909.4,509.9 L910.8,508.5 L912.2,507.1 L913.7,505.7 L915.1,504.3 L916.7,503.1 L918.3,501.8 L919.9,500.7 L921.5,499.5 L923.1,498.3 L924.7,497.1 L926.3,495.9 L928.0,494.8 L929.7,493.7 L931.4,492.7 L933.1,491.7 L934.9,490.8 L936.6,489.8 L938.4,488.9 L940.2,488.0 L942.0,487.1 L943.8,486.2 L945.5,485.3 L947.3,484.4 L949.1,483.5 L950.9,482.6 L952.7,481.8 L954.6,481.0 L956.4,480.4 L958.4,479.9 L960.3,479.5 L962.3,479.2 L964.3,479.0 L966.3,478.9 L968.3,478.9 L970.3,478.9 L972.3,478.9 L974.3,479.0 L976.3,479.2 L978.2,479.4 L980.2,479.6 L982.2,479.8 L984.2,480.0 L986.2,480.2 L988.2,480.4 L990.2,480.6 L992.2,480.8 L994.2,481.0 L996.2,481.2 L998.1,481.4 L1000.1,481.6 L1002.1,481.8 L1004.1,482.0 L1006.1,482.2 L1008.1,482.5 L1010.1,482.7 L1012.1,482.9 L1014.0,483.1 L1016.0,483.3 L1018.0,483.4 L1020.0,483.4 L1022.0,483.4 L1024.0,483.2 L1026.0,483.0 L1028.0,482.8 L1030.0,482.5 L1031.9,482.2 L1033.9,481.9 L1035.9,481.5 L1037.8,481.0 L1039.7,480.5 L1041.6,479.9 L1043.5,479.2 L1045.4,478.5 L1047.2,477.8 L1049.1,477.0 L1050.9,476.2 L1052.7,475.4 L1054.6,474.6 L1056.4,473.8 L1058.2,473.0 L1060.1,472.2 L1061.9,471.3 L1063.7,470.5 L1065.5,469.6 L1067.3,468.7 L1069.1,467.9 L1070.9,467.0 L1072.7,466.1 L1074.5,465.2 L1076.2,464.3 L1078.0,463.4 L1079.8,462.5 L1081.6,461.5 L1083.4,460.6 L1085.2,459.8 L1087.0,458.9 L1088.8,458.1 L1090.6,457.3 L1092.5,456.5 L1094.3,455.8 L1096.2,455.0 L1098.1,454.3 L1099.9,453.6 L1101.8,452.9 L1103.7,452.2 L1105.5,451.4 L1107.4,450.7 L1109.2,450.0 L1111.1,449.3 L1113.0,448.7 L1114.9,448.1 L1116.9,447.7 L1118.8,447.4 L1120.8,447.2 L1122.8,447.1 L1124.8,447.0 L1126.8,447.0 L1128.8,447.0 L1130.8,447.2 L1132.8,447.4 L1134.7,447.8 L1136.7,448.3 L1138.6,448.9 L1140.4,449.6 L1142.3,450.4 L1144.1,451.2 L1145.8,452.2 L1147.5,453.3 L1149.1,454.5 L1150.6,455.7 L1152.0,457.1 L1153.4,458.6 L1154.7,460.1 L1156.0,461.6 L1157.2,463.2 L1158.5,464.8 L1159.7,466.3 L1161.0,467.9 L1162.3,469.4 L1163.6,470.9 L1164.9,472.5 L1166.1,474.0 L1167.4,475.6 L1168.6,477.1 L1169.8,478.7 L1171.0,480.3 L1172.2,481.9 L1173.4,483.6 L1174.5,485.2 L1175.7,486.8 L1176.8,488.5 L1177.9,490.2 L1179.0,491.8 L1180.1,493.5 L1181.2,495.2 L1182.2,496.9 L1183.3,498.6 L1184.3,500.3 L1185.3,502.0 L1186.3,503.8 L1187.2,505.5 L1188.1,507.3 L1189.0,509.1 L1189.9,510.9 L1190.7,512.7 L1191.6,514.5 L1192.4,516.3 L1193.3,518.1 L1194.2,519.9 L1195.2,521.7 L1196.2,523.4 L1197.2,525.1 L1198.3,526.8 L1199.5,528.4 L1200.7,530.0 L1201.9,531.6 L1203.1,533.2 L1204.4,534.7 L1205.8,536.1 L1207.2,537.5 L1208.7,538.8 L1210.3,540.1 L1211.9,541.2 L1213.7,542.1 L1215.5,542.9 L1217.3,543.4 L1219.3,543.5 L1221.2,543.3 L1223.0,542.7 L1224.6,541.8 L1226.1,540.5 L1227.4,539.1 L1228.5,537.4 L1229.6,535.7 L1230.6,534.0 L1231.5,532.2 L1232.4,530.5 L1233.2,528.6 L1234.0,526.8 L1234.7,524.9 L1235.5,523.1 L1236.2,521.2 L1236.9,519.3 L1237.6,517.5 L1238.3,515.6 L1238.9,513.7 L1239.5,511.8 L1240.1,509.9 L1240.7,508.0 L1241.2,506.0 L1241.8,504.1 L1242.3,502.2 L1242.8,500.2 L1243.2,498.3 L1243.7,496.3 L1244.2,494.4 L1244.6,492.4 L1245.0,490.5 L1245.4,488.5 L1245.8,486.6 L1246.1,484.6 L1246.5,482.6 L1246.8,480.7 L1247.1,478.7 L1247.5,476.7 L1247.8,474.7 L1248.1,472.8 L1248.4,470.8 L1248.7,468.8 L1249.0,466.8 L1249.3,464.9 L1249.6,462.9 L1250.0,460.9 L1250.3,458.9 L1250.6,457.0 L1250.9,455.0 L1251.2,453.0 L1251.5,451.0 L1251.8,449.0 L1252.0,447.1 L1252.3,445.1 L1252.6,443.1 L1252.9,441.1 L1253.2,439.2 L1253.5,437.2 L1253.8,435.2 L1254.1,433.2 L1254.3,431.2 L1254.6,429.2 L1254.8,427.3 L1255.0,425.3 L1255.3,423.3 L1255.5,421.3 L1255.7,419.3 L1255.9,417.3 L1256.1,415.3 L1256.3,413.3 L1256.4,411.3 L1256.6,409.3 L1256.8,407.4 L1256.9,405.4 L1257.0,403.4 L1257.2,401.4 L1257.3,399.4 L1257.4,397.4 L1257.5,395.4 L1257.6,393.4 L1257.8,391.4 L1257.9,389.4 L1258.0,387.4 L1258.1,385.4 L1258.2,383.4 L1258.3,381.4 L1258.4,379.4 L1258.5,377.4 L1258.6,375.5 L1258.7,373.6 L1258.8,371.8" fill="none" stroke="#d6121e" stroke-width="2.8" stroke-linejoin="round"/>
</g>
<path d="M794.7,85 L794.7,624.2 L1278.6,624.2" fill="none" stroke="#2a2a2a" stroke-width="3" stroke-linecap="butt" stroke-linejoin="miter"/>
<text x="933.45" y="40.80" font-size="51" fill="#000">Noncuts</text>
<text x="731.05" y="153.30" font-size="36.3" fill="#000">3.0</text>
<text x="729.95" y="300.60" font-size="36.3" fill="#000">2.0</text>
<path d="M744.55,461.80 L741.36,461.80 L741.36,441.47 Q740.21,442.56 738.35,443.65 Q736.49,444.74 735.00,445.42 L735.00,442.34 Q737.62,441.10 739.59,439.40 Q741.56,437.69 742.37,436.10 L744.55,436.10 Z" fill="#000"/>
<text x="751.21" y="461.80" font-size="36.3" fill="#000">.0</text>
<text x="750.65" y="632.50" font-size="36.3" fill="#000">.0</text>
<text x="853.95" y="670.00" font-size="36.3" fill="#000">20 Duration-Normalized</text>
<text x="965.05" y="712.10" font-size="36" fill="#000">Time Bins</text>
<text transform="translate(708.60,635.70) rotate(-90)" font-size="36.1" fill="#000">Normalized Mean Noncuts Per Bin</text>
<text transform="translate(858.50,157.85) rotate(-90)" font-size="29.3" fill="#ee0a0a">Prolog</text>
<text transform="translate(888.80,324.65) rotate(-90)" font-size="36.3" fill="#ee0a0a">Setup</text>
<text transform="translate(991.30,324.05) rotate(-90)" font-size="36.3" fill="#ee0a0a">Complication</text>
<text transform="translate(1106.00,325.30) rotate(-90)" font-size="36.3" fill="#ee0a0a">Development</text>
<text transform="translate(1205.30,324.05) rotate(-90)" font-size="36.3" fill="#ee0a0a">Climax</text>
<text transform="translate(1289.00,395.70) rotate(-90)" font-size="30" fill="#ee0a0a">Epilog</text>
</svg>
</body></html>
